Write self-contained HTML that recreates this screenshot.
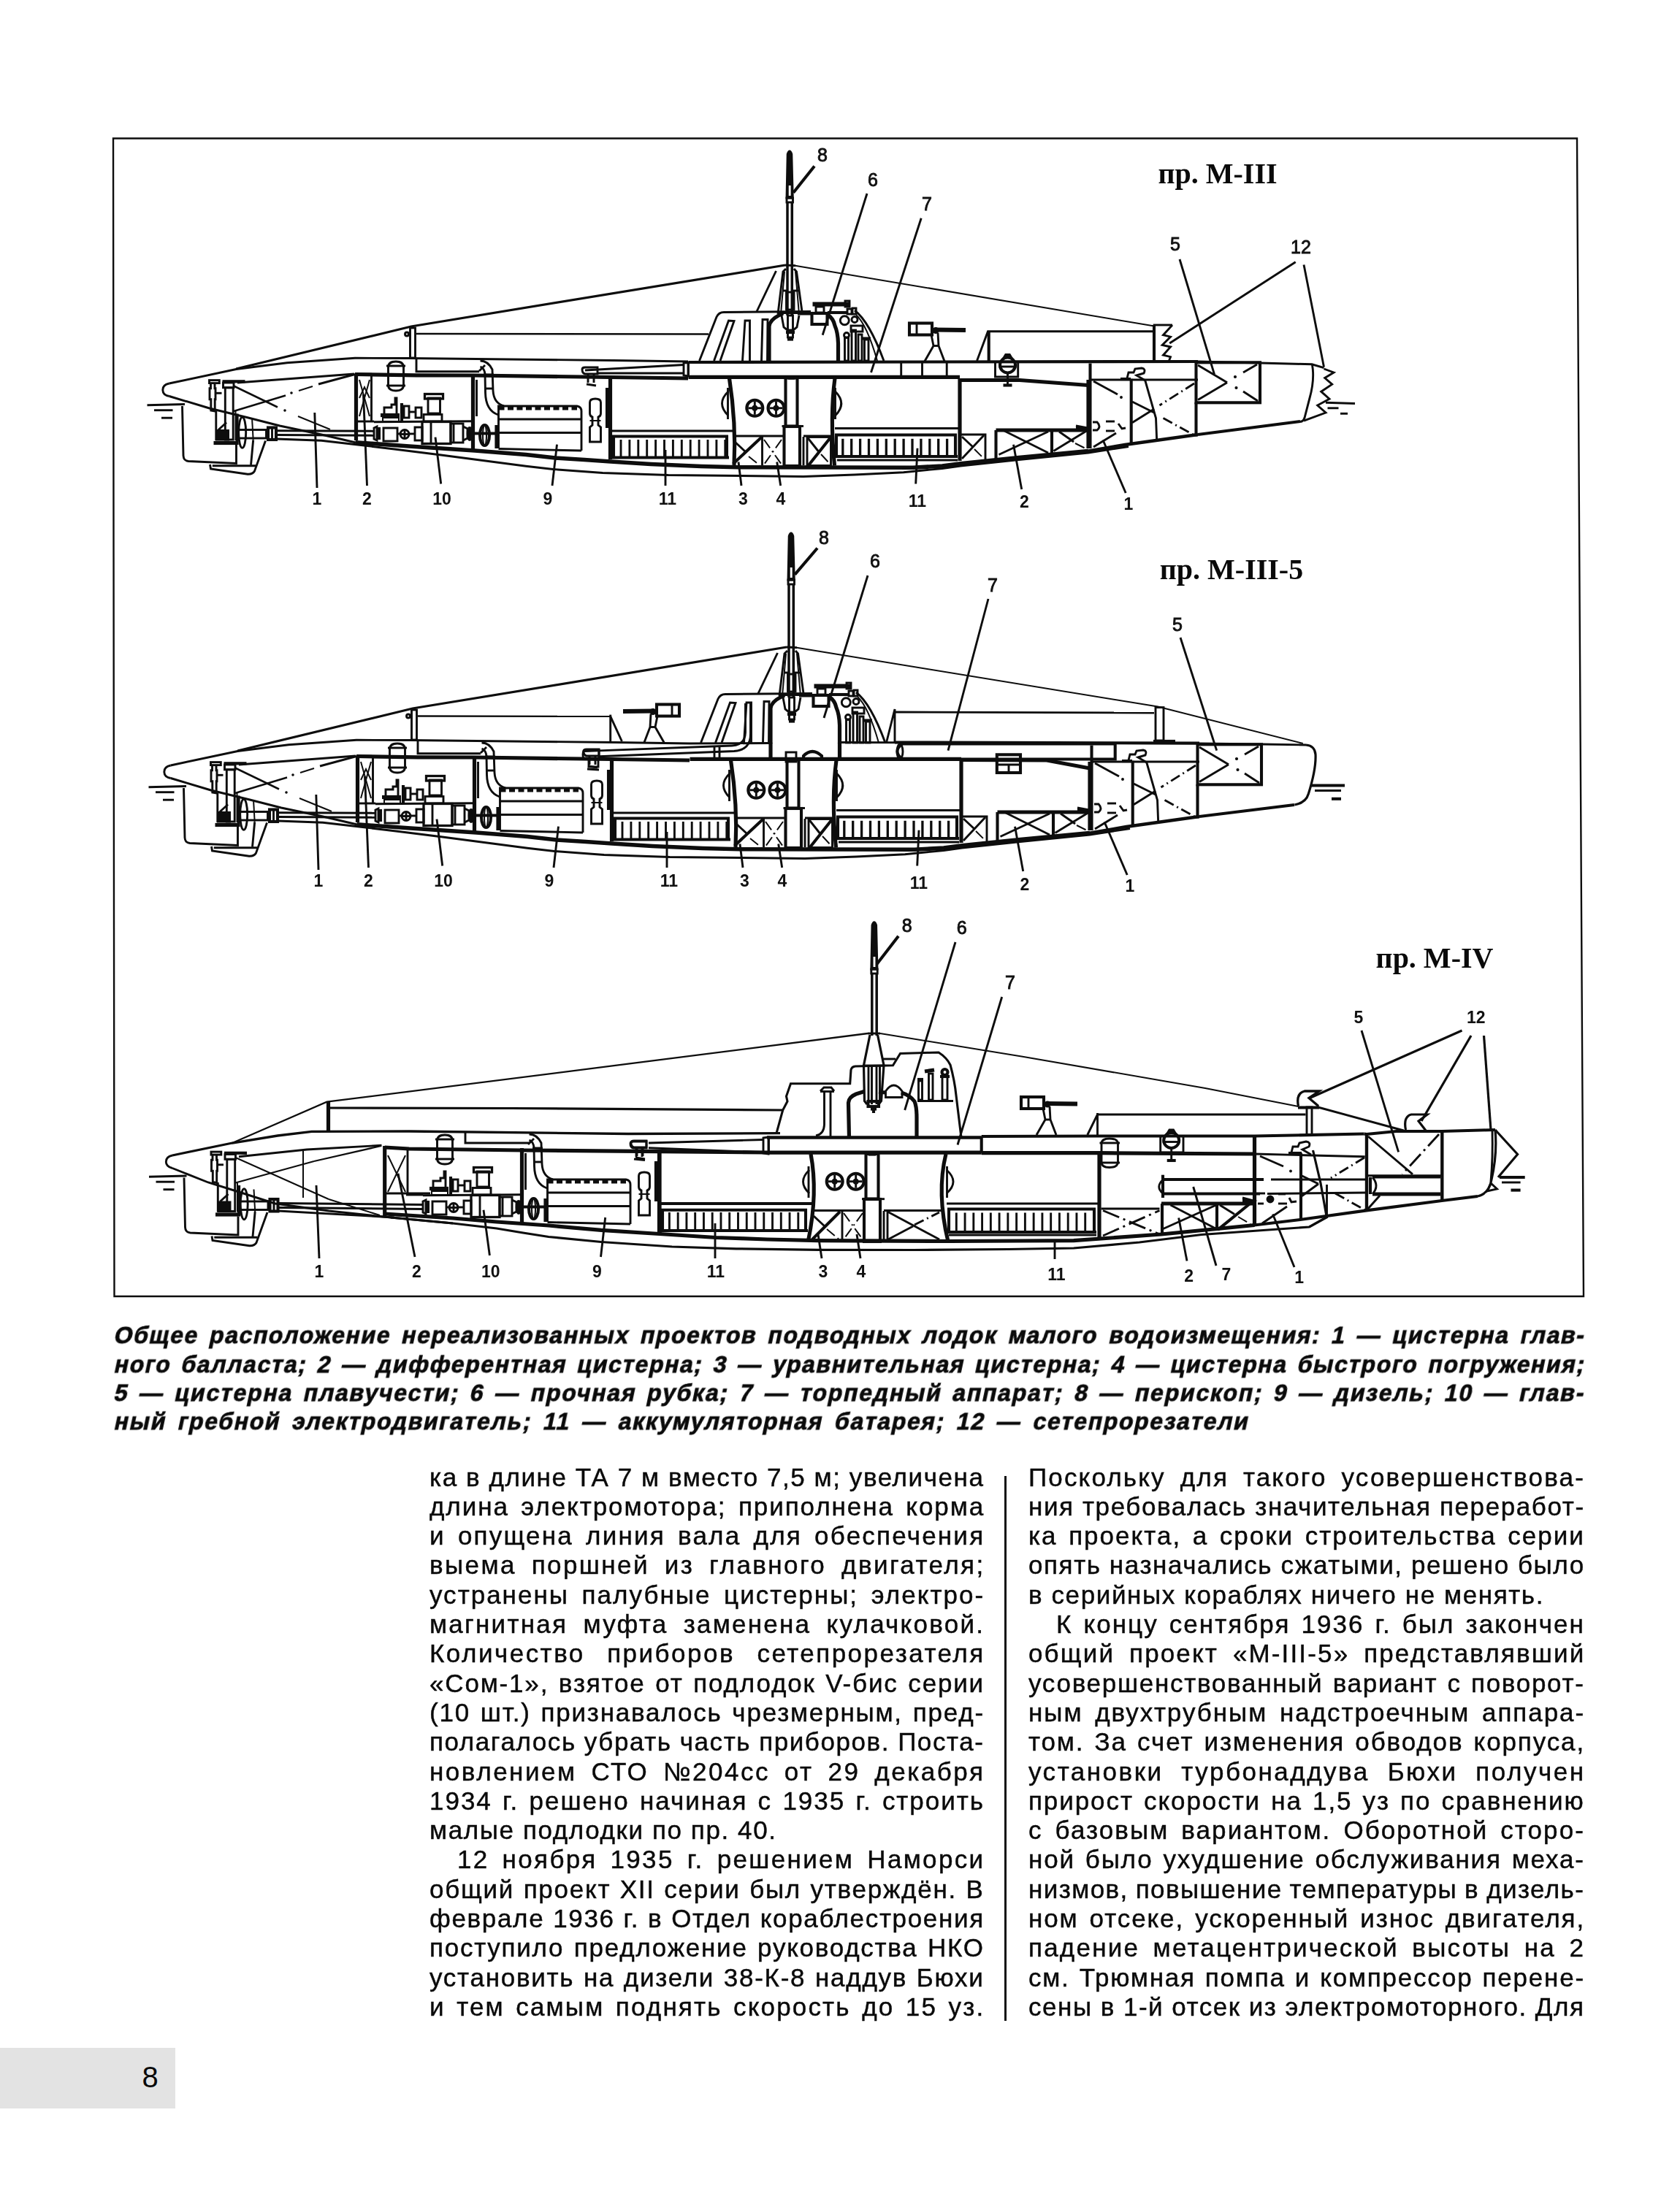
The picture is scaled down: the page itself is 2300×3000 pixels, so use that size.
<!DOCTYPE html>
<html><head><meta charset="utf-8"><title>page 8</title>
<style>
html,body{margin:0;padding:0;background:#fff}
body{width:2300px;height:3000px;position:relative;overflow:hidden;font-family:"Liberation Sans",sans-serif;color:#0a0a0a}
.ln{position:absolute;white-space:pre;height:40px}
.body{font-size:35px;line-height:40px;-webkit-text-stroke:0.45px #0a0a0a}
.cap{font-size:32px;line-height:38px;font-weight:bold;transform:skewX(-12deg);transform-origin:0 30px;-webkit-text-stroke:0.8px #0a0a0a}
.pgbox{position:absolute;left:0;top:2804px;width:240px;height:83px;background:#e3e3e3}
.pgnum{position:absolute;left:194.5px;top:2822px;font-size:40px;line-height:44px}
.vline{position:absolute;left:1375px;top:2021px;width:3px;height:746px;background:#111}
svg{position:absolute;left:0;top:0;filter:blur(0.55px)}
.ln{filter:blur(0.4px)}
.ttl{font-family:"Liberation Serif",serif;font-weight:bold;font-size:40px;fill:#0a0a0a}
.lb{font-family:"Liberation Sans",sans-serif;font-size:25px;fill:#111;stroke:#111;stroke-width:0.9px}
.lbb{font-family:"Liberation Sans",sans-serif;font-size:23px;font-weight:bold;fill:#111}
</style></head><body>
<div class="pgbox"></div><div class="pgnum">8</div>
<div class="vline"></div>
<div class="ln cap" style="left:155px;top:1809.3px;letter-spacing:1.58px;word-spacing:4.71px">Общее расположение нереализованных проектов подводных лодок малого водоизмещения: 1 — цистерна глав-</div>
<div class="ln cap" style="left:155px;top:1848.6px;letter-spacing:1.57px;word-spacing:3.70px">ного балласта; 2 — дифферентная цистерна; 3 — уравнительная цистерна; 4 — цистерна быстрого погружения;</div>
<div class="ln cap" style="left:155px;top:1887.9px;letter-spacing:1.79px;word-spacing:4.01px">5 — цистерна плавучести; 6 — прочная рубка; 7 — торпедный аппарат; 8 — перископ; 9 — дизель; 10 — глав-</div>
<div class="ln cap" style="left:155px;top:1927.2px;letter-spacing:1.66px;word-spacing:5.40px">ный гребной электродвигатель; 11 — аккумуляторная батарея; 12 — сетепрорезатели</div>
<div class="ln body" style="left:588px;top:2002.5px;letter-spacing:1.58px;word-spacing:-0.05px">ка в длине ТА 7 м вместо 7,5 м; увеличена</div>
<div class="ln body" style="left:588px;top:2042.8px;letter-spacing:1.93px;word-spacing:4.78px">длина электромотора; приполнена корма</div>
<div class="ln body" style="left:588px;top:2083.1px;letter-spacing:2.21px;word-spacing:5.19px">и опущена линия вала для обеспечения</div>
<div class="ln body" style="left:588px;top:2123.4px;letter-spacing:2.42px;word-spacing:8.72px">выема поршней из главного двигателя;</div>
<div class="ln body" style="left:588px;top:2163.7px;letter-spacing:2.01px;word-spacing:5.95px">устранены палубные цистерны; электро-</div>
<div class="ln body" style="left:588px;top:2204.0px;letter-spacing:2.25px;word-spacing:9.28px">магнитная муфта заменена кулачковой.</div>
<div class="ln body" style="left:588px;top:2244.3px;letter-spacing:2.48px;word-spacing:18.20px">Количество приборов сетепрорезателя</div>
<div class="ln body" style="left:588px;top:2284.6px;letter-spacing:1.83px;word-spacing:2.09px">«Сом-1», взятое от подлодок V-бис серии</div>
<div class="ln body" style="left:588px;top:2324.9px;letter-spacing:1.80px;word-spacing:2.30px">(10 шт.) признавалось чрезмерным, пред-</div>
<div class="ln body" style="left:588px;top:2365.2px;letter-spacing:1.57px;word-spacing:-0.18px">полагалось убрать часть приборов. Поста-</div>
<div class="ln body" style="left:588px;top:2405.5px;letter-spacing:2.53px;word-spacing:7.53px">новлением СТО №204сс от 29 декабря</div>
<div class="ln body" style="left:588px;top:2445.8px;letter-spacing:1.98px;word-spacing:2.57px">1934 г. решено начиная с 1935 г. строить</div>
<div class="ln body" style="left:588px;top:2486.1px;letter-spacing:1.60px;word-spacing:0.00px">малые подлодки по пр. 40.</div>
<div class="ln body" style="left:626px;top:2526.4px;letter-spacing:2.34px;word-spacing:5.95px">12 ноября 1935 г. решением Наморси</div>
<div class="ln body" style="left:588px;top:2566.7px;letter-spacing:1.74px;word-spacing:1.10px">общий проект XII серии был утверждён. В</div>
<div class="ln body" style="left:588px;top:2607.0px;letter-spacing:1.66px;word-spacing:0.52px">феврале 1936 г. в Отдел кораблестроения</div>
<div class="ln body" style="left:588px;top:2647.3px;letter-spacing:1.74px;word-spacing:2.05px">поступило предложение руководства НКО</div>
<div class="ln body" style="left:588px;top:2687.6px;letter-spacing:1.73px;word-spacing:1.24px">установить на дизели 38-К-8 наддув Бюхи</div>
<div class="ln body" style="left:588px;top:2727.9px;letter-spacing:2.16px;word-spacing:3.59px">и тем самым поднять скорость до 15 уз.</div>
<div class="ln body" style="left:1408px;top:2002.5px;letter-spacing:2.15px;word-spacing:8.12px">Поскольку для такого усовершенствова-</div>
<div class="ln body" style="left:1408px;top:2042.8px;letter-spacing:1.60px;word-spacing:-0.01px">ния требовалась значительная переработ-</div>
<div class="ln body" style="left:1408px;top:2083.1px;letter-spacing:2.01px;word-spacing:3.85px">ка проекта, а сроки строительства серии</div>
<div class="ln body" style="left:1408px;top:2123.4px;letter-spacing:1.59px;word-spacing:-0.09px">опять назначались сжатыми, решено было</div>
<div class="ln body" style="left:1408px;top:2163.7px;letter-spacing:1.60px;word-spacing:0.00px">в серийных кораблях ничего не менять.</div>
<div class="ln body" style="left:1446px;top:2204.0px;letter-spacing:2.04px;word-spacing:3.26px">К концу сентября 1936 г. был закончен</div>
<div class="ln body" style="left:1408px;top:2244.3px;letter-spacing:2.15px;word-spacing:8.00px">общий проект «М-III-5» представлявший</div>
<div class="ln body" style="left:1408px;top:2284.6px;letter-spacing:1.72px;word-spacing:1.83px">усовершенствованный вариант с поворот-</div>
<div class="ln body" style="left:1408px;top:2324.9px;letter-spacing:1.96px;word-spacing:5.07px">ным двухтрубным надстроечным аппара-</div>
<div class="ln body" style="left:1408px;top:2365.2px;letter-spacing:1.88px;word-spacing:2.57px">том. За счет изменения обводов корпуса,</div>
<div class="ln body" style="left:1408px;top:2405.5px;letter-spacing:2.51px;word-spacing:12.59px">установки турбонаддува Бюхи получен</div>
<div class="ln body" style="left:1408px;top:2445.8px;letter-spacing:1.92px;word-spacing:2.51px">прирост скорости на 1,5 уз по сравнению</div>
<div class="ln body" style="left:1408px;top:2486.1px;letter-spacing:2.07px;word-spacing:5.21px">с базовым вариантом. Оборотной сторо-</div>
<div class="ln body" style="left:1408px;top:2526.4px;letter-spacing:1.82px;word-spacing:2.42px">ной было ухудшение обслуживания меха-</div>
<div class="ln body" style="left:1408px;top:2566.7px;letter-spacing:1.42px;word-spacing:-1.13px">низмов, повышение температуры в дизель-</div>
<div class="ln body" style="left:1408px;top:2607.0px;letter-spacing:1.90px;word-spacing:3.43px">ном отсеке, ускоренный износ двигателя,</div>
<div class="ln body" style="left:1408px;top:2647.3px;letter-spacing:2.21px;word-spacing:6.57px">падение метацентрической высоты на 2</div>
<div class="ln body" style="left:1408px;top:2687.6px;letter-spacing:1.78px;word-spacing:1.61px">см. Трюмная помпа и компрессор перене-</div>
<div class="ln body" style="left:1408px;top:2727.9px;letter-spacing:1.55px;word-spacing:-0.22px">сены в 1-й отсек из электромоторного. Для</div>
<svg width="2300" height="3000" viewBox="0 0 2300 3000" fill="none" stroke="#0d0d0d" stroke-linecap="butt" stroke-linejoin="miter">
<polygon points="155,189.5 2159,189.5 2168,1775 156.5,1775" stroke-width="2.4"/>
<path d="M231.7,525 Q222.5,527 222.8,534 Q223,541 231.7,542.5" stroke-width="2.9" />
<path d="M231.7,525 L323.3,505.5 L393,496.7 L486,490.3 L560,490.5 L840,493.5 L942,495" stroke-width="2.9" />
<path d="M231.7,542.5 L286.7,559 L340,572 L383,583 L440,595 L487,606" stroke-width="2.9" />
<path d="M378.6,601 L440,603.3 L490,609 L540,615 L600,622.5 L720,638.3 L757,642.5 L825,647.5 L915,650.5 L1015,651.5 L1100,652.5 L1170,650 L1237,646.7 L1290,641.5 L1315,638 L1395,629.5 L1490,620 L1545,611.5" stroke-width="2.9" />
<path d="M486.7,605.8 L560,611 L650,617 L720,622.5 L760,627 L800,629.5 L836,632 L891,635.5 L960,638.5 L1010,639.7 L1145,640 L1250,640.3 L1290,638 L1315,634.8 L1395,626.5 L1490,617.5" stroke-width="5.6000000000000005" />
<path d="M1488,617.8 L1540,609 L1640,595" stroke-width="4.3999999999999995" />
<path d="M486,512.5 L570,513.8 L647,514 L835,516.5 L942,518" stroke-width="5.2" />
<line x1="942.5" y1="516.3" x2="1314" y2="516.3" stroke-width="5.2" />
<path d="M1314,520.5 L1396,520.5 L1490,527.5" stroke-width="5.2" />
<path d="M323.3,505 L563,447 L1075,363" stroke-width="3.1999999999999997" />
<line x1="1075" y1="363" x2="1089" y2="363.7" stroke-width="2.9" />
<rect x="561.5" y="449" width="7.0" height="41" stroke-width="2.9" />
<circle cx="557" cy="457.5" r="2.5" stroke-width="2.9" />
<polyline points="570,491 570,508.7 656,508.7" stroke-width="2.9" />
<path d="M1640,595 L1780,577" stroke-width="4.1" />
<path d="M1088.7,363.7 L1578.7,446.2" stroke-width="2.0" />
<line x1="570" y1="457" x2="970" y2="457.5" stroke-width="2.3" />
<path d="M249.5,556 L251,624 Q251.5,631 258,631.5 L323.5,634.5 L323.5,609" stroke-width="2.9" />
<line x1="292.5" y1="606.5" x2="323.5" y2="606.5" stroke-width="5.2" />
<path d="M287.5,636 L288.5,642 L339,649.2 Q346,649.5 348.5,645 L363.5,603.5" stroke-width="2.9" />
<line x1="290.8" y1="637.8" x2="350" y2="637.8" stroke-width="2.9" />
<line x1="343.5" y1="636.7" x2="346.7" y2="602.5" stroke-width="2.9" />
<line x1="346.7" y1="602.5" x2="345" y2="572" stroke-width="2.0" />
<polyline points="288.5,525 288.5,531.7 287,531.7 287,546.7 288.8,546.7 288.8,562 294.2,563 294.2,546.7 295,546.7 295,531.7 294,531.7 294,525" stroke-width="2.9" />
<rect x="286.5" y="520.6" width="13.800000000000011" height="4.0" stroke-width="2.9" />
<line x1="295" y1="538.3" x2="303.5" y2="538.3" stroke-width="2.9" />
<rect x="308.3" y="530.8" width="10.899999999999977" height="71.20000000000005" stroke-width="2.9" />
<rect x="305.5" y="524" width="14.5" height="6.7999999999999545" stroke-width="2.9" />
<line x1="304.5" y1="522.3" x2="335.5" y2="522.3" stroke-width="4.2" />
<line x1="295.8" y1="562.5" x2="295.8" y2="603" stroke-width="2.9" />
<line x1="322.5" y1="563" x2="322.5" y2="603" stroke-width="2.0" />
<path d="M296,589 L313,589 L313,602.5 L296,602.5 Z" stroke-width="2.0" fill="#0d0d0d"/>
<line x1="299" y1="588.5" x2="310" y2="578.5" stroke-width="2.9" />
<ellipse cx="331.7" cy="592.2" rx="5" ry="21" stroke-width="2.9" />
<line x1="324.6" y1="566.5" x2="324.6" y2="609" stroke-width="4.1" />
<rect x="326" y="588.5" width="38.5" height="11.5" stroke-width="2.9" />
<rect x="367" y="585.5" width="11" height="16.5" stroke-width="4.1" />
<line x1="372.5" y1="586" x2="372.5" y2="602" stroke-width="2.9" />
<line x1="378" y1="589.8" x2="512" y2="590.3" stroke-width="2.9" />
<line x1="378" y1="595.5" x2="512" y2="596.3" stroke-width="2.9" />
<line x1="378" y1="601" x2="380" y2="601.1" stroke-width="2.9" />
<line x1="201.5" y1="554.7" x2="253" y2="553.5" stroke-width="2.9" />
<line x1="211" y1="561.7" x2="236.5" y2="561.7" stroke-width="2.9" />
<line x1="221" y1="572.2" x2="236" y2="572.2" stroke-width="2.9" />
<line x1="320" y1="528.5" x2="380" y2="557.5" stroke-width="2.5" />
<line x1="320" y1="563" x2="391" y2="541.5" stroke-width="2.5" />
<line x1="409" y1="535" x2="428" y2="529" stroke-width="2.0" />
<line x1="436" y1="526" x2="486" y2="512.5" stroke-width="2.9" />
<circle cx="399" cy="538" r="1.2" stroke-width="1.2" fill="#0d0d0d"/>
<circle cx="390" cy="562" r="1.2" stroke-width="1.2" fill="#0d0d0d"/>
<line x1="408" y1="570" x2="452" y2="588" stroke-width="2.0" />
<line x1="325" y1="524" x2="485" y2="512" stroke-width="2.9" />
<line x1="487.5" y1="512" x2="487.5" y2="603" stroke-width="5.2" />
<line x1="508.5" y1="514" x2="508.5" y2="577" stroke-width="2.9" />
<polyline points="492,520 506,570" stroke-width="2.0" />
<polyline points="506,520 492,570" stroke-width="2.0" />
<polyline points="492,545 499,530 506,545" stroke-width="2.0" />
<line x1="489" y1="577" x2="512" y2="577" stroke-width="2.9" />
<path d="M531.5,503 Q531.5,495 542,495 Q552.5,495 552.5,503 L552.5,527 Q552.5,535 542,535 Q531.5,535 531.5,527 Z" stroke-width="2.9" />
<line x1="529" y1="501" x2="555" y2="501" stroke-width="2.9" />
<line x1="529" y1="528" x2="555" y2="528" stroke-width="2.9" />
<polyline points="526,566 526,558 536,558 536,554 541,554 541,545 543,545 543,566" stroke-width="2.9" />
<line x1="521" y1="568.5" x2="547" y2="568.5" stroke-width="5.2" />
<rect x="524" y="572" width="22" height="5" stroke-width="2.0" />
<line x1="550" y1="552" x2="550" y2="578" stroke-width="4.1" />
<rect x="553" y="556" width="7" height="16" stroke-width="2.9" />
<rect x="569" y="558" width="8" height="14" stroke-width="2.9" />
<line x1="560" y1="564" x2="569" y2="564" stroke-width="2.9" />
<rect x="581.5" y="539.5" width="25.0" height="6.5" stroke-width="3.3" />
<rect x="586" y="545" width="16.5" height="21" stroke-width="2.9" />
<rect x="580" y="567.5" width="25" height="9.5" stroke-width="2.9" />
<rect x="578" y="577.5" width="39" height="30.0" stroke-width="3.3" />
<line x1="512" y1="577.8" x2="646" y2="576.8" stroke-width="2.9" />
<line x1="590" y1="578" x2="590" y2="607" stroke-width="2.9" />
<rect x="617" y="580" width="17" height="26" stroke-width="2.9" />
<line x1="621" y1="580" x2="621" y2="606" stroke-width="2.9" />
<path d="M634,584 L640,587 L640,600 L634,603" stroke-width="2.9" />
<path d="M512,586 L516,584 L516,603 L512,601 Z" stroke-width="2.9" />
<line x1="519" y1="585" x2="519" y2="602" stroke-width="4.1" />
<rect x="525" y="586" width="19" height="18" stroke-width="2.9" />
<circle cx="554" cy="594.5" r="6" stroke-width="2.9" />
<line x1="548" y1="594.5" x2="560" y2="594.5" stroke-width="2.9" />
<line x1="554" y1="588.5" x2="554" y2="600.5" stroke-width="2.9" />
<rect x="568" y="585" width="10" height="18" stroke-width="2.9" />
<line x1="544" y1="594" x2="548" y2="594" stroke-width="2.9" />
<line x1="560" y1="594" x2="568" y2="594" stroke-width="2.9" />
<line x1="647.5" y1="513" x2="647.5" y2="616" stroke-width="5.2" />
<line x1="652.5" y1="520" x2="652.5" y2="570" stroke-width="2.9" />
<line x1="640" y1="593.5" x2="682" y2="593.5" stroke-width="4.1" />
<ellipse cx="643" cy="594" rx="2.8" ry="8.5" stroke-width="2.9" fill="#0d0d0d"/>
<ellipse cx="663.5" cy="596" rx="6.5" ry="14" stroke-width="4.1" />
<ellipse cx="663.5" cy="596" rx="2.5" ry="14" stroke-width="2.0" />
<line x1="680" y1="582" x2="680" y2="614" stroke-width="5.2" />
<path d="M657.5,494 Q668,494 674,506 L675,535 Q676,552 690,556" stroke-width="2.9" />
<path d="M657.5,502 Q663,504 664,512 L664.5,538 Q665,562 682,568" stroke-width="2.9" />
<line x1="662" y1="513" x2="676" y2="513" stroke-width="2.9" />
<line x1="663" y1="532" x2="676" y2="532" stroke-width="2.9" />
<line x1="656" y1="508" x2="664" y2="500" stroke-width="2.9" />
<path d="M682.5,614 L682.5,556 L790,556 Q796,557 796,563 L796,617" stroke-width="2.9" />
<line x1="682.5" y1="559" x2="790" y2="559" stroke-width="5.2" stroke-dasharray="8 4.5"/>
<line x1="682.5" y1="574" x2="796" y2="574" stroke-width="2.9" />
<line x1="682.5" y1="614.5" x2="796" y2="617" stroke-width="2.9" />
<line x1="682.5" y1="592.5" x2="796" y2="592.5" stroke-width="2.9" />
<path d="M807.5,551 Q807.5,546 815,546 Q822.5,546 822.5,551 L822.5,566 Q822.5,570 819,571 L819,582 L822.5,585 L822.5,605 L807.5,605 L807.5,585 L811,582 L811,571 Q807.5,570 807.5,566 Z" stroke-width="2.9" />
<line x1="807.5" y1="576" x2="822.5" y2="576" stroke-width="2.0" />
<line x1="835.5" y1="517" x2="835.5" y2="629" stroke-width="5.2" />
<line x1="831" y1="531" x2="831" y2="586" stroke-width="4.1" />
<path d="M797,506 Q797,503 801,503 L818,503 L818,512 L801,512 Q797,511 797,506 Z" stroke-width="2.9" />
<line x1="805" y1="512" x2="805" y2="524" stroke-width="2.9" />
<line x1="813" y1="512" x2="813" y2="524" stroke-width="2.9" />
<line x1="803" y1="526" x2="816" y2="528" stroke-width="2.9" />
<line x1="801" y1="507" x2="936" y2="499.5" stroke-width="2.9" />
<line x1="818" y1="511" x2="936" y2="511" stroke-width="2.9" />
<path d="M936,497 L942,496.5 L942,515 L936,514 Z" stroke-width="2.9" />
<line x1="942.5" y1="496" x2="1640" y2="495" stroke-width="4.1" />
<line x1="942.5" y1="496" x2="942.5" y2="516" stroke-width="2.9" />
<line x1="1233.7" y1="496" x2="1233.7" y2="516" stroke-width="2.9" />
<line x1="1262.5" y1="496" x2="1262.5" y2="516" stroke-width="2.9" />
<line x1="1296.2" y1="496" x2="1296.2" y2="516" stroke-width="2.9" />
<line x1="838" y1="590" x2="1003" y2="590" stroke-width="2.9" />
<polyline points="840,626 840,597.5 995,597.5 995,626" stroke-width="4.1" />
<line x1="838" y1="626.5" x2="998" y2="626.5" stroke-width="4.1" />
<line x1="850.0" y1="602" x2="850.0" y2="625" stroke-width="2.9" />
<line x1="861.9" y1="602" x2="861.9" y2="625" stroke-width="2.9" />
<line x1="873.8" y1="602" x2="873.8" y2="625" stroke-width="2.9" />
<line x1="885.7" y1="602" x2="885.7" y2="625" stroke-width="2.9" />
<line x1="897.6" y1="602" x2="897.6" y2="625" stroke-width="2.9" />
<line x1="909.5" y1="602" x2="909.5" y2="625" stroke-width="2.9" />
<line x1="921.4" y1="602" x2="921.4" y2="625" stroke-width="2.9" />
<line x1="933.3" y1="602" x2="933.3" y2="625" stroke-width="2.9" />
<line x1="945.2" y1="602" x2="945.2" y2="625" stroke-width="2.9" />
<line x1="957.1" y1="602" x2="957.1" y2="625" stroke-width="2.9" />
<line x1="969.0" y1="602" x2="969.0" y2="625" stroke-width="2.9" />
<line x1="980.9" y1="602" x2="980.9" y2="625" stroke-width="2.9" />
<line x1="992.8" y1="602" x2="992.8" y2="625" stroke-width="2.9" />
<path d="M998.5,518 Q1008,580 1005,637" stroke-width="5.2" />
<path d="M997,536 Q980,552.5 997,569" stroke-width="2.9" />
<line x1="996.5" y1="531" x2="996.5" y2="574" stroke-width="2.9" />
<circle cx="1033.3" cy="558.8" r="11" stroke-width="4.1" />
<line x1="1024.3" y1="558.8" x2="1042.3" y2="558.8" stroke-width="2.9" />
<line x1="1033.3" y1="549.8" x2="1033.3" y2="567.8" stroke-width="2.9" />
<circle cx="1033.3" cy="558.8" r="2.5" stroke-width="2.9" fill="#0d0d0d"/>
<circle cx="1062.5" cy="558.8" r="11" stroke-width="4.1" />
<line x1="1053.5" y1="558.8" x2="1071.5" y2="558.8" stroke-width="2.9" />
<line x1="1062.5" y1="549.8" x2="1062.5" y2="567.8" stroke-width="2.9" />
<circle cx="1062.5" cy="558.8" r="2.5" stroke-width="2.9" fill="#0d0d0d"/>
<rect x="1075.5" y="517.5" width="16.0" height="66.0" stroke-width="4.1" />
<line x1="1070.5" y1="583.5" x2="1100" y2="583.5" stroke-width="2.9" />
<rect x="1073.5" y="584" width="21.5" height="54" stroke-width="4.1" />
<line x1="1079" y1="517" x2="1088" y2="517" stroke-width="5.2" />
<line x1="1006" y1="597" x2="1073" y2="597" stroke-width="2.9" />
<line x1="1003.75" y1="635" x2="1042.5" y2="598.75" stroke-width="4.1" />
<line x1="1006" y1="605" x2="1020" y2="618" stroke-width="2.9" />
<line x1="1043.5" y1="598" x2="1043.5" y2="637" stroke-width="2.9" />
<line x1="1046" y1="602" x2="1070" y2="636" stroke-width="2.0" stroke-dasharray="14 5 2 5"/>
<line x1="1070" y1="602" x2="1046" y2="636" stroke-width="2.0" stroke-dasharray="14 5 2 5"/>
<line x1="1025" y1="625" x2="1040" y2="637" stroke-width="2.0" stroke-dasharray="14 5 2 5"/>
<line x1="1100" y1="597" x2="1141" y2="597" stroke-width="2.9" />
<rect x="1105" y="598.5" width="32.5" height="39.0" stroke-width="2.9" />
<line x1="1105" y1="598.5" x2="1122" y2="620" stroke-width="2.9" />
<line x1="1137.5" y1="598.5" x2="1107" y2="637" stroke-width="4.1" />
<line x1="1124" y1="622" x2="1137" y2="636" stroke-width="2.0" stroke-dasharray="14 5 2 5"/>
<line x1="1100" y1="598" x2="1100" y2="637" stroke-width="2.9" />
<path d="M1143,518 Q1136,570 1142.5,637.5" stroke-width="5.2" />
<path d="M1143.5,536 Q1160,552.5 1143.5,569" stroke-width="2.9" />
<line x1="1143.5" y1="531" x2="1143.5" y2="574" stroke-width="2.9" />
<line x1="1143" y1="586.5" x2="1312" y2="586.5" stroke-width="2.9" />
<polyline points="1145,624.5 1145,595.5 1308,595.5 1308,624.5" stroke-width="4.1" />
<line x1="1143" y1="625" x2="1311" y2="625" stroke-width="4.1" />
<line x1="1146" y1="630" x2="1311" y2="630" stroke-width="2.9" />
<line x1="1153.8" y1="600.8" x2="1153.8" y2="624" stroke-width="3.3" />
<line x1="1165.7" y1="600.8" x2="1165.7" y2="624" stroke-width="3.3" />
<line x1="1177.6" y1="600.8" x2="1177.6" y2="624" stroke-width="3.3" />
<line x1="1189.5" y1="600.8" x2="1189.5" y2="624" stroke-width="3.3" />
<line x1="1201.3999999999999" y1="600.8" x2="1201.3999999999999" y2="624" stroke-width="3.3" />
<line x1="1213.3" y1="600.8" x2="1213.3" y2="624" stroke-width="3.3" />
<line x1="1225.2" y1="600.8" x2="1225.2" y2="624" stroke-width="3.3" />
<line x1="1237.1" y1="600.8" x2="1237.1" y2="624" stroke-width="3.3" />
<line x1="1249.0" y1="600.8" x2="1249.0" y2="624" stroke-width="3.3" />
<line x1="1260.8999999999999" y1="600.8" x2="1260.8999999999999" y2="624" stroke-width="3.3" />
<line x1="1272.8" y1="600.8" x2="1272.8" y2="624" stroke-width="3.3" />
<line x1="1284.7" y1="600.8" x2="1284.7" y2="624" stroke-width="3.3" />
<line x1="1296.6" y1="600.8" x2="1296.6" y2="624" stroke-width="3.3" />
<path d="M957.5,494 L981,434 Q984,427.5 991,427.5 L1110,426.5" stroke-width="2.9" />
<polyline points="977.5,494 997.5,439 1005,439.5 986,494" stroke-width="2.9" />
<polyline points="1016.5,494 1020,439 1026.5,439 1026.5,494" stroke-width="2.9" />
<polyline points="1042.5,494 1044,437.5 1051,437.5 1050.5,494" stroke-width="2.9" />
<line x1="1036" y1="426.5" x2="1062.5" y2="371" stroke-width="2.9" />
<path d="M1053,495 L1053,447 Q1054,438 1066,432 L1072,429" stroke-width="5.2" />
<path d="M1092,429 L1110,429 M1133,431 Q1141,436 1143,446 Q1147,455 1147.5,470 L1147.5,495" stroke-width="5.2" />
<path d="M1078.2,211 Q1081,203 1083.8,211 L1085.3,271 L1077,271 Z" stroke-width="2.9" fill="#0d0d0d"/>
<line x1="1081.2" y1="254" x2="1081.2" y2="268" stroke-width="2.9" stroke="#fff"/>
<rect x="1077" y="271" width="8.5" height="6" stroke-width="2.9" />
<line x1="1078" y1="277" x2="1078" y2="432" stroke-width="3.4999999999999996" />
<line x1="1084.3" y1="277" x2="1084.3" y2="432" stroke-width="3.4999999999999996" />
<polyline points="1076,368 1072,372 1065,430" stroke-width="2.9" />
<polyline points="1087,368 1090.5,372 1098.5,430" stroke-width="2.9" />
<line x1="1071" y1="398" x2="1077" y2="398" stroke-width="2.9" />
<line x1="1086" y1="398" x2="1093" y2="398" stroke-width="2.9" />
<line x1="1074" y1="372" x2="1069" y2="430" stroke-width="2.0" />
<line x1="1089" y1="372" x2="1094" y2="430" stroke-width="2.0" />
<rect x="1076.5" y="400" width="10.5" height="24" stroke-width="2.9" />
<line x1="1066" y1="428" x2="1099" y2="428" stroke-width="4.1" />
<polyline points="1070,432 1073,448 1078,452 1086,452 1091,448 1094,432" stroke-width="2.9" />
<rect x="1078.5" y="432" width="7.0" height="30" stroke-width="2.9" />
<line x1="1076" y1="455" x2="1088" y2="455" stroke-width="4.1" />
<line x1="1078" y1="464" x2="1086" y2="464" stroke-width="5.2" />
<rect x="1111.5" y="429" width="21.0" height="15" stroke-width="4.1" />
<line x1="1112.5" y1="416.5" x2="1162" y2="416.5" stroke-width="6.2" />
<rect x="1117" y="420" width="11" height="8" stroke-width="2.9" />
<rect x="1157" y="412" width="6" height="8" stroke-width="2.9" />
<line x1="1133" y1="428" x2="1160" y2="428" stroke-width="4.1" />
<rect x="1160" y="423" width="6" height="7" stroke-width="2.9" />
<circle cx="1156.3" cy="438.8" r="6" stroke-width="2.9" />
<circle cx="1170" cy="437.5" r="4" stroke-width="2.9" />
<rect x="1167" y="422" width="5" height="8" stroke-width="2.9" />
<rect x="1156.5" y="462" width="5.0" height="32" stroke-width="2.9" />
<circle cx="1159" cy="459" r="3.5" stroke-width="2.9" />
<rect x="1166" y="452" width="5.5" height="42" stroke-width="2.9" />
<rect x="1165" y="446" width="16" height="8" stroke-width="2.9" />
<rect x="1175" y="458" width="5" height="36" stroke-width="2.9" />
<rect x="1183.5" y="465" width="5.5" height="29" stroke-width="2.9" />
<line x1="1180" y1="463.5" x2="1192" y2="463.5" stroke-width="4.1" />
<path d="M1170,425 Q1190,440 1210,494" stroke-width="2.9" />
<path d="M1172,431 Q1187,445 1201,494" stroke-width="2.0" />
<rect x="1245" y="442.5" width="31" height="16.0" stroke-width="4.1" />
<line x1="1255" y1="442.5" x2="1255" y2="458.5" stroke-width="2.9" />
<line x1="1279" y1="451.5" x2="1322" y2="452.0" stroke-width="6.0" />
<polyline points="1275,458.5 1278,473.5 1266,494.5" stroke-width="2.9" />
<polyline points="1284,455.5 1285,473.5 1293,494.5" stroke-width="2.9" />
<line x1="1277" y1="473.5" x2="1286" y2="473.5" stroke-width="2.9" />
<circle cx="1281" cy="452.5" r="3" stroke-width="2.9" />
<polyline points="1337.5,494 1352.5,453.7 1580,453.7" stroke-width="2.9" />
<line x1="1353.7" y1="453.7" x2="1353.7" y2="494" stroke-width="4.1" />
<line x1="1580" y1="445" x2="1580" y2="495" stroke-width="4.1" />
<line x1="1578.7" y1="445" x2="1605" y2="445" stroke-width="2.9" />
<polyline points="1605,445 1592.5,458.7 1602.5,461.2 1591.2,472.5 1602.5,475 1592.5,486.2 1602.5,488.7 1600,495" stroke-width="2.9" />
<polyline points="1362.5,497 1362.5,516 1393.7,516 1393.7,497" stroke-width="2.9" />
<circle cx="1379.5" cy="500" r="10.5" stroke-width="4.1" />
<path d="M1373.5,490 L1376.5,485 L1382.5,485 L1385.5,490 Z" stroke-width="2.0" fill="#0d0d0d"/>
<line x1="1367.5" y1="502" x2="1391.5" y2="502" stroke-width="2.9" />
<line x1="1379.5" y1="510" x2="1379.5" y2="527" stroke-width="2.9" />
<line x1="1373.5" y1="527.5" x2="1385.5" y2="527.5" stroke-width="4.1" />
<line x1="1314" y1="519" x2="1314" y2="631" stroke-width="5.2" />
<polyline points="1316,595 1349,595 1349,630" stroke-width="2.9" />
<line x1="1317" y1="628" x2="1347" y2="596" stroke-width="2.9" />
<line x1="1317" y1="598" x2="1332" y2="612" stroke-width="2.9" />
<line x1="1334" y1="615" x2="1346" y2="627" stroke-width="2.0" stroke-dasharray="14 5 2 5"/>
<line x1="1363.5" y1="589" x2="1489" y2="589" stroke-width="5.2" />
<line x1="1363.5" y1="589" x2="1363.5" y2="629" stroke-width="4.1" />
<line x1="1440" y1="590" x2="1440" y2="621" stroke-width="4.1" />
<line x1="1375" y1="590" x2="1435" y2="620" stroke-width="2.9" />
<line x1="1367.5" y1="622.5" x2="1435" y2="591" stroke-width="2.9" />
<line x1="1450" y1="591" x2="1470" y2="605" stroke-width="2.9" />
<line x1="1442.5" y1="617.5" x2="1487.5" y2="590" stroke-width="2.9" />
<line x1="1472" y1="607" x2="1486" y2="614" stroke-width="2.0" stroke-dasharray="14 5 2 5"/>
<line x1="1490" y1="520" x2="1490" y2="614" stroke-width="5.2" />
<path d="M1473,583 L1489,586 L1473,589" stroke-width="2.9" fill="#0d0d0d"/>
<path d="M1496,578 L1502,578 Q1508,584 1502,589 L1496,589" stroke-width="2.9" />
<line x1="1514" y1="577" x2="1526" y2="577" stroke-width="2.9" />
<line x1="1514" y1="590" x2="1526" y2="590" stroke-width="2.9" />
<path d="M1531,580 L1536,587 L1541,586" stroke-width="2.9" />
<line x1="1497" y1="612" x2="1528" y2="593" stroke-width="2.9" />
<line x1="1492.5" y1="497.5" x2="1492.5" y2="614" stroke-width="4.1" />
<line x1="1492.5" y1="520" x2="1640" y2="520" stroke-width="2.9" />
<line x1="1548.7" y1="518.7" x2="1548.7" y2="608.7" stroke-width="4.1" />
<polyline points="1567.5,520 1582.5,572.5 1583.7,603" stroke-width="2.9" />
<line x1="1497" y1="522" x2="1530" y2="540" stroke-width="2.9" />
<circle cx="1535" cy="544" r="1.3" stroke-width="1.3" fill="#0d0d0d"/>
<line x1="1550" y1="550" x2="1580" y2="565" stroke-width="2.9" />
<line x1="1550" y1="578.7" x2="1580" y2="560" stroke-width="2.9" />
<line x1="1635" y1="525" x2="1587.5" y2="555" stroke-width="2.9" stroke-dasharray="14 5 2 5"/>
<line x1="1592.5" y1="572.5" x2="1635" y2="596" stroke-width="2.9" stroke-dasharray="14 5 2 5"/>
<path d="M1543,518 L1545,510 L1552,510 L1554,505 L1563,504 Q1569,505 1566,511 L1556,514 L1568,521" stroke-width="2.9" />
<line x1="1534" y1="519" x2="1548" y2="519" stroke-width="4.1" />
<rect x="1637.5" y="496.3" width="87.5" height="54.99999999999994" stroke-width="4.1" />
<line x1="1637.5" y1="551" x2="1637.5" y2="597.5" stroke-width="4.1" />
<line x1="1640" y1="500" x2="1680" y2="523.7" stroke-width="2.9" />
<line x1="1640" y1="547.5" x2="1680" y2="523.7" stroke-width="2.9" />
<line x1="1702" y1="510" x2="1721" y2="499" stroke-width="2.9" />
<line x1="1702" y1="536" x2="1722" y2="549" stroke-width="2.9" />
<circle cx="1691" cy="516" r="1.4" stroke-width="1.4" fill="#0d0d0d"/>
<circle cx="1692.5" cy="531" r="1.4" stroke-width="1.4" fill="#0d0d0d"/>
<path d="M1640,495 L1725,497 L1796,498.8 L1812.5,503.7" stroke-width="2.9" />
<path d="M1796.5,499.5 Q1800,520 1793,545 L1786,572 Q1784.5,577 1780,577.5" stroke-width="2.9" />
<polyline points="1812.5,505 1826,510 1813.7,517.5 1823.7,526.2 1808.7,536.2 1820,546.2 1803.7,555 1815,565 1785,576.2" stroke-width="2.9" />
<line x1="1815" y1="551.3" x2="1855" y2="552.5" stroke-width="2.9" />
<line x1="1817.5" y1="558.8" x2="1832.5" y2="558.8" stroke-width="2.9" />
<line x1="1835" y1="566.3" x2="1845" y2="566.3" stroke-width="2.9" />
<line x1="430.8" y1="565" x2="434" y2="668" stroke-width="2.9" />
<line x1="497.5" y1="540" x2="502.5" y2="665" stroke-width="2.9" />
<line x1="596" y1="598.7" x2="603.7" y2="662.5" stroke-width="2.9" />
<line x1="762.5" y1="608.7" x2="756" y2="665" stroke-width="2.9" />
<line x1="911" y1="616" x2="911" y2="665" stroke-width="2.9" />
<line x1="1011" y1="632.5" x2="1015" y2="665" stroke-width="2.9" />
<line x1="1063.7" y1="632.5" x2="1068.7" y2="665" stroke-width="2.9" />
<line x1="1256" y1="613.7" x2="1253.7" y2="662.5" stroke-width="2.9" />
<line x1="1387.5" y1="608.7" x2="1398.7" y2="670" stroke-width="2.9" />
<line x1="1510" y1="602.5" x2="1541.2" y2="675" stroke-width="2.9" />
<line x1="1115" y1="227.5" x2="1086.2" y2="263.7" stroke-width="4.1" />
<line x1="1187" y1="265" x2="1126.2" y2="458.7" stroke-width="2.9" />
<line x1="1261.2" y1="298.7" x2="1192.5" y2="510" stroke-width="2.9" />
<line x1="1615" y1="355" x2="1662.5" y2="512.5" stroke-width="2.9" />
<line x1="1773.7" y1="358.7" x2="1601.2" y2="470" stroke-width="2.9" />
<line x1="1785" y1="362.5" x2="1812.5" y2="502.5" stroke-width="2.9" />
<text x="434" y="691" class="lbb" text-anchor="middle" stroke="none">1</text>
<text x="502.5" y="691" class="lbb" text-anchor="middle" stroke="none">2</text>
<text x="605" y="691" class="lbb" text-anchor="middle" stroke="none">10</text>
<text x="750" y="691" class="lbb" text-anchor="middle" stroke="none">9</text>
<text x="914" y="691" class="lbb" text-anchor="middle" stroke="none">11</text>
<text x="1017.5" y="691" class="lbb" text-anchor="middle" stroke="none">3</text>
<text x="1069" y="691" class="lbb" text-anchor="middle" stroke="none">4</text>
<text x="1256" y="694" class="lbb" text-anchor="middle" stroke="none">11</text>
<text x="1402.5" y="695" class="lbb" text-anchor="middle" stroke="none">2</text>
<text x="1545" y="698" class="lbb" text-anchor="middle" stroke="none">1</text>
<text x="1126" y="221" class="lb" text-anchor="middle" >8</text>
<text x="1195" y="255" class="lb" text-anchor="middle" >6</text>
<text x="1269" y="288" class="lb" text-anchor="middle" >7</text>
<text x="1609" y="343" class="lb" text-anchor="middle" >5</text>
<text x="1781" y="347" class="lb" text-anchor="middle" >12</text>
<text x="1667" y="251" class="ttl" text-anchor="middle" stroke="none">пр. М-III</text>
<g transform="translate(2,523)"><path d="M231.7,525 Q222.5,527 222.8,534 Q223,541 231.7,542.5" stroke-width="2.9" />
<path d="M231.7,525 L323.3,505.5 L393,496.7 L486,490.3 L560,490.5 L840,493.5 L942,495" stroke-width="2.9" />
<path d="M231.7,542.5 L286.7,559 L340,572 L383,583 L440,595 L487,606" stroke-width="2.9" />
<path d="M378.6,601 L440,603.3 L490,609 L540,615 L600,622.5 L720,638.3 L757,642.5 L825,647.5 L915,650.5 L1015,651.5 L1100,652.5 L1170,650 L1237,646.7 L1290,641.5 L1315,638 L1395,629.5 L1490,620 L1545,611.5" stroke-width="2.9" />
<path d="M486.7,605.8 L560,611 L650,617 L720,622.5 L760,627 L800,629.5 L836,632 L891,635.5 L960,638.5 L1010,639.7 L1145,640 L1250,640.3 L1290,638 L1315,634.8 L1395,626.5 L1490,617.5" stroke-width="5.6000000000000005" />
<path d="M1488,617.8 L1540,609 L1640,595" stroke-width="4.3999999999999995" />
<path d="M486,512.5 L570,513.8 L647,514 L835,516.5 L942,518" stroke-width="5.2" />
<line x1="942.5" y1="516.3" x2="1314" y2="516.3" stroke-width="5.2" />
<path d="M1314,517.5 L1431,518 L1490,529" stroke-width="5.2" />
<path d="M323.3,505 L563,447 L1075,363" stroke-width="3.1999999999999997" />
<line x1="1075" y1="363" x2="1089" y2="363.7" stroke-width="2.9" />
<rect x="561.5" y="449" width="7.0" height="41" stroke-width="2.9" />
<circle cx="557" cy="457.5" r="2.5" stroke-width="2.9" />
<polyline points="570,491 570,508.7 656,508.7" stroke-width="2.9" />
<path d="M1640,595 L1770,579" stroke-width="4.1" />
<path d="M249.5,556 L251,624 Q251.5,631 258,631.5 L323.5,634.5 L323.5,609" stroke-width="2.9" />
<line x1="292.5" y1="606.5" x2="323.5" y2="606.5" stroke-width="5.2" />
<path d="M287.5,636 L288.5,642 L339,649.2 Q346,649.5 348.5,645 L363.5,603.5" stroke-width="2.9" />
<line x1="290.8" y1="637.8" x2="350" y2="637.8" stroke-width="2.9" />
<line x1="343.5" y1="636.7" x2="346.7" y2="602.5" stroke-width="2.9" />
<line x1="346.7" y1="602.5" x2="345" y2="572" stroke-width="2.0" />
<polyline points="288.5,525 288.5,531.7 287,531.7 287,546.7 288.8,546.7 288.8,562 294.2,563 294.2,546.7 295,546.7 295,531.7 294,531.7 294,525" stroke-width="2.9" />
<rect x="286.5" y="520.6" width="13.800000000000011" height="4.0" stroke-width="2.9" />
<line x1="295" y1="538.3" x2="303.5" y2="538.3" stroke-width="2.9" />
<rect x="308.3" y="530.8" width="10.899999999999977" height="71.20000000000005" stroke-width="2.9" />
<rect x="305.5" y="524" width="14.5" height="6.7999999999999545" stroke-width="2.9" />
<line x1="304.5" y1="522.3" x2="335.5" y2="522.3" stroke-width="4.2" />
<line x1="295.8" y1="562.5" x2="295.8" y2="603" stroke-width="2.9" />
<line x1="322.5" y1="563" x2="322.5" y2="603" stroke-width="2.0" />
<path d="M296,589 L313,589 L313,602.5 L296,602.5 Z" stroke-width="2.0" fill="#0d0d0d"/>
<line x1="299" y1="588.5" x2="310" y2="578.5" stroke-width="2.9" />
<ellipse cx="331.7" cy="592.2" rx="5" ry="21" stroke-width="2.9" />
<line x1="324.6" y1="566.5" x2="324.6" y2="609" stroke-width="4.1" />
<rect x="326" y="588.5" width="38.5" height="11.5" stroke-width="2.9" />
<rect x="367" y="585.5" width="11" height="16.5" stroke-width="4.1" />
<line x1="372.5" y1="586" x2="372.5" y2="602" stroke-width="2.9" />
<line x1="378" y1="589.8" x2="512" y2="590.3" stroke-width="2.9" />
<line x1="378" y1="595.5" x2="512" y2="596.3" stroke-width="2.9" />
<line x1="378" y1="601" x2="380" y2="601.1" stroke-width="2.9" />
<line x1="201.5" y1="554.7" x2="253" y2="553.5" stroke-width="2.9" />
<line x1="211" y1="561.7" x2="236.5" y2="561.7" stroke-width="2.9" />
<line x1="221" y1="572.2" x2="236" y2="572.2" stroke-width="2.9" />
<line x1="320" y1="528.5" x2="380" y2="557.5" stroke-width="2.5" />
<line x1="320" y1="563" x2="391" y2="541.5" stroke-width="2.5" />
<line x1="409" y1="535" x2="428" y2="529" stroke-width="2.0" />
<line x1="436" y1="526" x2="486" y2="512.5" stroke-width="2.9" />
<circle cx="399" cy="538" r="1.2" stroke-width="1.2" fill="#0d0d0d"/>
<circle cx="390" cy="562" r="1.2" stroke-width="1.2" fill="#0d0d0d"/>
<line x1="408" y1="570" x2="452" y2="588" stroke-width="2.0" />
<line x1="325" y1="524" x2="485" y2="512" stroke-width="2.9" />
<line x1="487.5" y1="512" x2="487.5" y2="603" stroke-width="5.2" />
<line x1="508.5" y1="514" x2="508.5" y2="577" stroke-width="2.9" />
<polyline points="492,520 506,570" stroke-width="2.0" />
<polyline points="506,520 492,570" stroke-width="2.0" />
<polyline points="492,545 499,530 506,545" stroke-width="2.0" />
<line x1="489" y1="577" x2="512" y2="577" stroke-width="2.9" />
<path d="M531.5,503 Q531.5,495 542,495 Q552.5,495 552.5,503 L552.5,527 Q552.5,535 542,535 Q531.5,535 531.5,527 Z" stroke-width="2.9" />
<line x1="529" y1="501" x2="555" y2="501" stroke-width="2.9" />
<line x1="529" y1="528" x2="555" y2="528" stroke-width="2.9" />
<polyline points="526,566 526,558 536,558 536,554 541,554 541,545 543,545 543,566" stroke-width="2.9" />
<line x1="521" y1="568.5" x2="547" y2="568.5" stroke-width="5.2" />
<rect x="524" y="572" width="22" height="5" stroke-width="2.0" />
<line x1="550" y1="552" x2="550" y2="578" stroke-width="4.1" />
<rect x="553" y="556" width="7" height="16" stroke-width="2.9" />
<rect x="569" y="558" width="8" height="14" stroke-width="2.9" />
<line x1="560" y1="564" x2="569" y2="564" stroke-width="2.9" />
<rect x="581.5" y="539.5" width="25.0" height="6.5" stroke-width="3.3" />
<rect x="586" y="545" width="16.5" height="21" stroke-width="2.9" />
<rect x="580" y="567.5" width="25" height="9.5" stroke-width="2.9" />
<rect x="578" y="577.5" width="39" height="30.0" stroke-width="3.3" />
<line x1="512" y1="577.8" x2="646" y2="576.8" stroke-width="2.9" />
<line x1="590" y1="578" x2="590" y2="607" stroke-width="2.9" />
<rect x="617" y="580" width="17" height="26" stroke-width="2.9" />
<line x1="621" y1="580" x2="621" y2="606" stroke-width="2.9" />
<path d="M634,584 L640,587 L640,600 L634,603" stroke-width="2.9" />
<path d="M512,586 L516,584 L516,603 L512,601 Z" stroke-width="2.9" />
<line x1="519" y1="585" x2="519" y2="602" stroke-width="4.1" />
<rect x="525" y="586" width="19" height="18" stroke-width="2.9" />
<circle cx="554" cy="594.5" r="6" stroke-width="2.9" />
<line x1="548" y1="594.5" x2="560" y2="594.5" stroke-width="2.9" />
<line x1="554" y1="588.5" x2="554" y2="600.5" stroke-width="2.9" />
<rect x="568" y="585" width="10" height="18" stroke-width="2.9" />
<line x1="544" y1="594" x2="548" y2="594" stroke-width="2.9" />
<line x1="560" y1="594" x2="568" y2="594" stroke-width="2.9" />
<line x1="647.5" y1="513" x2="647.5" y2="616" stroke-width="5.2" />
<line x1="652.5" y1="520" x2="652.5" y2="570" stroke-width="2.9" />
<line x1="640" y1="593.5" x2="682" y2="593.5" stroke-width="4.1" />
<ellipse cx="643" cy="594" rx="2.8" ry="8.5" stroke-width="2.9" fill="#0d0d0d"/>
<ellipse cx="663.5" cy="596" rx="6.5" ry="14" stroke-width="4.1" />
<ellipse cx="663.5" cy="596" rx="2.5" ry="14" stroke-width="2.0" />
<line x1="680" y1="582" x2="680" y2="614" stroke-width="5.2" />
<path d="M657.5,494 Q668,494 674,506 L675,535 Q676,552 690,556" stroke-width="2.9" />
<path d="M657.5,502 Q663,504 664,512 L664.5,538 Q665,562 682,568" stroke-width="2.9" />
<line x1="662" y1="513" x2="676" y2="513" stroke-width="2.9" />
<line x1="663" y1="532" x2="676" y2="532" stroke-width="2.9" />
<line x1="656" y1="508" x2="664" y2="500" stroke-width="2.9" />
<path d="M682.5,614 L682.5,556 L790,556 Q796,557 796,563 L796,617" stroke-width="2.9" />
<line x1="682.5" y1="559" x2="790" y2="559" stroke-width="5.2" stroke-dasharray="8 4.5"/>
<line x1="682.5" y1="574" x2="796" y2="574" stroke-width="2.9" />
<line x1="682.5" y1="614.5" x2="796" y2="617" stroke-width="2.9" />
<line x1="682.5" y1="592.5" x2="796" y2="592.5" stroke-width="2.9" />
<path d="M807.5,551 Q807.5,546 815,546 Q822.5,546 822.5,551 L822.5,566 Q822.5,570 819,571 L819,582 L822.5,585 L822.5,605 L807.5,605 L807.5,585 L811,582 L811,571 Q807.5,570 807.5,566 Z" stroke-width="2.9" />
<line x1="807.5" y1="576" x2="822.5" y2="576" stroke-width="2.0" />
<line x1="835.5" y1="517" x2="835.5" y2="629" stroke-width="5.2" />
<line x1="831" y1="531" x2="831" y2="586" stroke-width="4.1" />
<path d="M797,506 Q797,503 801,503 L818,503 L818,512 L801,512 Q797,511 797,506 Z" stroke-width="2.9" />
<line x1="805" y1="512" x2="805" y2="524" stroke-width="2.9" />
<line x1="813" y1="512" x2="813" y2="524" stroke-width="2.9" />
<line x1="803" y1="526" x2="816" y2="528" stroke-width="2.9" />
<line x1="838" y1="590" x2="1003" y2="590" stroke-width="2.9" />
<polyline points="840,626 840,597.5 995,597.5 995,626" stroke-width="4.1" />
<line x1="838" y1="626.5" x2="998" y2="626.5" stroke-width="4.1" />
<line x1="850.0" y1="602" x2="850.0" y2="625" stroke-width="2.9" />
<line x1="861.9" y1="602" x2="861.9" y2="625" stroke-width="2.9" />
<line x1="873.8" y1="602" x2="873.8" y2="625" stroke-width="2.9" />
<line x1="885.7" y1="602" x2="885.7" y2="625" stroke-width="2.9" />
<line x1="897.6" y1="602" x2="897.6" y2="625" stroke-width="2.9" />
<line x1="909.5" y1="602" x2="909.5" y2="625" stroke-width="2.9" />
<line x1="921.4" y1="602" x2="921.4" y2="625" stroke-width="2.9" />
<line x1="933.3" y1="602" x2="933.3" y2="625" stroke-width="2.9" />
<line x1="945.2" y1="602" x2="945.2" y2="625" stroke-width="2.9" />
<line x1="957.1" y1="602" x2="957.1" y2="625" stroke-width="2.9" />
<line x1="969.0" y1="602" x2="969.0" y2="625" stroke-width="2.9" />
<line x1="980.9" y1="602" x2="980.9" y2="625" stroke-width="2.9" />
<line x1="992.8" y1="602" x2="992.8" y2="625" stroke-width="2.9" />
<path d="M998.5,518 Q1008,580 1005,637" stroke-width="5.2" />
<path d="M997,536 Q980,552.5 997,569" stroke-width="2.9" />
<line x1="996.5" y1="531" x2="996.5" y2="574" stroke-width="2.9" />
<circle cx="1033.3" cy="558.8" r="11" stroke-width="4.1" />
<line x1="1024.3" y1="558.8" x2="1042.3" y2="558.8" stroke-width="2.9" />
<line x1="1033.3" y1="549.8" x2="1033.3" y2="567.8" stroke-width="2.9" />
<circle cx="1033.3" cy="558.8" r="2.5" stroke-width="2.9" fill="#0d0d0d"/>
<circle cx="1062.5" cy="558.8" r="11" stroke-width="4.1" />
<line x1="1053.5" y1="558.8" x2="1071.5" y2="558.8" stroke-width="2.9" />
<line x1="1062.5" y1="549.8" x2="1062.5" y2="567.8" stroke-width="2.9" />
<circle cx="1062.5" cy="558.8" r="2.5" stroke-width="2.9" fill="#0d0d0d"/>
<rect x="1075.5" y="517.5" width="16.0" height="66.0" stroke-width="4.1" />
<line x1="1070.5" y1="583.5" x2="1100" y2="583.5" stroke-width="2.9" />
<rect x="1073.5" y="584" width="21.5" height="54" stroke-width="4.1" />
<line x1="1079" y1="517" x2="1088" y2="517" stroke-width="5.2" />
<line x1="1006" y1="597" x2="1073" y2="597" stroke-width="2.9" />
<line x1="1003.75" y1="635" x2="1042.5" y2="598.75" stroke-width="4.1" />
<line x1="1006" y1="605" x2="1020" y2="618" stroke-width="2.9" />
<line x1="1043.5" y1="598" x2="1043.5" y2="637" stroke-width="2.9" />
<line x1="1046" y1="602" x2="1070" y2="636" stroke-width="2.0" stroke-dasharray="14 5 2 5"/>
<line x1="1070" y1="602" x2="1046" y2="636" stroke-width="2.0" stroke-dasharray="14 5 2 5"/>
<line x1="1025" y1="625" x2="1040" y2="637" stroke-width="2.0" stroke-dasharray="14 5 2 5"/>
<line x1="1100" y1="597" x2="1141" y2="597" stroke-width="2.9" />
<rect x="1105" y="598.5" width="32.5" height="39.0" stroke-width="2.9" />
<line x1="1105" y1="598.5" x2="1122" y2="620" stroke-width="2.9" />
<line x1="1137.5" y1="598.5" x2="1107" y2="637" stroke-width="4.1" />
<line x1="1124" y1="622" x2="1137" y2="636" stroke-width="2.0" stroke-dasharray="14 5 2 5"/>
<line x1="1100" y1="598" x2="1100" y2="637" stroke-width="2.9" />
<path d="M1143,518 Q1136,570 1142.5,637.5" stroke-width="5.2" />
<path d="M1143.5,536 Q1160,552.5 1143.5,569" stroke-width="2.9" />
<line x1="1143.5" y1="531" x2="1143.5" y2="574" stroke-width="2.9" />
<line x1="1143" y1="586.5" x2="1312" y2="586.5" stroke-width="2.9" />
<polyline points="1145,624.5 1145,595.5 1308,595.5 1308,624.5" stroke-width="4.1" />
<line x1="1143" y1="625" x2="1311" y2="625" stroke-width="4.1" />
<line x1="1146" y1="630" x2="1311" y2="630" stroke-width="2.9" />
<line x1="1153.8" y1="600.8" x2="1153.8" y2="624" stroke-width="3.3" />
<line x1="1165.7" y1="600.8" x2="1165.7" y2="624" stroke-width="3.3" />
<line x1="1177.6" y1="600.8" x2="1177.6" y2="624" stroke-width="3.3" />
<line x1="1189.5" y1="600.8" x2="1189.5" y2="624" stroke-width="3.3" />
<line x1="1201.3999999999999" y1="600.8" x2="1201.3999999999999" y2="624" stroke-width="3.3" />
<line x1="1213.3" y1="600.8" x2="1213.3" y2="624" stroke-width="3.3" />
<line x1="1225.2" y1="600.8" x2="1225.2" y2="624" stroke-width="3.3" />
<line x1="1237.1" y1="600.8" x2="1237.1" y2="624" stroke-width="3.3" />
<line x1="1249.0" y1="600.8" x2="1249.0" y2="624" stroke-width="3.3" />
<line x1="1260.8999999999999" y1="600.8" x2="1260.8999999999999" y2="624" stroke-width="3.3" />
<line x1="1272.8" y1="600.8" x2="1272.8" y2="624" stroke-width="3.3" />
<line x1="1284.7" y1="600.8" x2="1284.7" y2="624" stroke-width="3.3" />
<line x1="1296.6" y1="600.8" x2="1296.6" y2="624" stroke-width="3.3" />
<path d="M957.5,494 L981,434 Q984,427.5 991,427.5 L1110,426.5" stroke-width="2.9" />
<polyline points="977.5,494 997.5,439 1005,439.5 986,494" stroke-width="2.9" />
<polyline points="1016.5,494 1020,439 1026.5,439 1026.5,494" stroke-width="2.9" />
<polyline points="1042.5,494 1044,437.5 1051,437.5 1050.5,494" stroke-width="2.9" />
<line x1="1036" y1="426.5" x2="1062.5" y2="371" stroke-width="2.9" />
<path d="M1053,495 L1053,447 Q1054,438 1066,432 L1072,429" stroke-width="5.2" />
<path d="M1092,429 L1110,429 M1133,431 Q1141,436 1143,446 Q1147,455 1147.5,470 L1147.5,495" stroke-width="5.2" />
<path d="M1078.2,211 Q1081,203 1083.8,211 L1085.3,271 L1077,271 Z" stroke-width="2.9" fill="#0d0d0d"/>
<line x1="1081.2" y1="254" x2="1081.2" y2="268" stroke-width="2.9" stroke="#fff"/>
<rect x="1077" y="271" width="8.5" height="6" stroke-width="2.9" />
<line x1="1078" y1="277" x2="1078" y2="432" stroke-width="3.4999999999999996" />
<line x1="1084.3" y1="277" x2="1084.3" y2="432" stroke-width="3.4999999999999996" />
<polyline points="1076,368 1072,372 1065,430" stroke-width="2.9" />
<polyline points="1087,368 1090.5,372 1098.5,430" stroke-width="2.9" />
<line x1="1071" y1="398" x2="1077" y2="398" stroke-width="2.9" />
<line x1="1086" y1="398" x2="1093" y2="398" stroke-width="2.9" />
<line x1="1074" y1="372" x2="1069" y2="430" stroke-width="2.0" />
<line x1="1089" y1="372" x2="1094" y2="430" stroke-width="2.0" />
<rect x="1076.5" y="400" width="10.5" height="24" stroke-width="2.9" />
<line x1="1066" y1="428" x2="1099" y2="428" stroke-width="4.1" />
<polyline points="1070,432 1073,448 1078,452 1086,452 1091,448 1094,432" stroke-width="2.9" />
<rect x="1078.5" y="432" width="7.0" height="30" stroke-width="2.9" />
<line x1="1076" y1="455" x2="1088" y2="455" stroke-width="4.1" />
<line x1="1078" y1="464" x2="1086" y2="464" stroke-width="5.2" />
<rect x="1111.5" y="429" width="21.0" height="15" stroke-width="4.1" />
<line x1="1112.5" y1="416.5" x2="1162" y2="416.5" stroke-width="6.2" />
<rect x="1117" y="420" width="11" height="8" stroke-width="2.9" />
<rect x="1157" y="412" width="6" height="8" stroke-width="2.9" />
<line x1="1133" y1="428" x2="1160" y2="428" stroke-width="4.1" />
<rect x="1160" y="423" width="6" height="7" stroke-width="2.9" />
<circle cx="1156.3" cy="438.8" r="6" stroke-width="2.9" />
<circle cx="1170" cy="437.5" r="4" stroke-width="2.9" />
<rect x="1167" y="422" width="5" height="8" stroke-width="2.9" />
<rect x="1156.5" y="462" width="5.0" height="32" stroke-width="2.9" />
<circle cx="1159" cy="459" r="3.5" stroke-width="2.9" />
<rect x="1166" y="452" width="5.5" height="42" stroke-width="2.9" />
<rect x="1165" y="446" width="16" height="8" stroke-width="2.9" />
<rect x="1175" y="458" width="5" height="36" stroke-width="2.9" />
<rect x="1183.5" y="465" width="5.5" height="29" stroke-width="2.9" />
<line x1="1180" y1="463.5" x2="1192" y2="463.5" stroke-width="4.1" />
<path d="M1170,425 Q1190,440 1210,494" stroke-width="2.9" />
<path d="M1172,431 Q1187,445 1201,494" stroke-width="2.0" />
<line x1="1053" y1="494" x2="1053" y2="517" stroke-width="5.2" />
<line x1="1147.5" y1="494" x2="1147.5" y2="517" stroke-width="5.2" />
<rect x="1074" y="507" width="14" height="13" stroke-width="2.9" />
<path d="M1098,518 L1098,512 Q1110,500 1123,512 L1123,518" stroke-width="4.1" />
<line x1="1314" y1="519" x2="1314" y2="631" stroke-width="5.2" />
<polyline points="1316,595 1349,595 1349,630" stroke-width="2.9" />
<line x1="1317" y1="628" x2="1347" y2="596" stroke-width="2.9" />
<line x1="1317" y1="598" x2="1332" y2="612" stroke-width="2.9" />
<line x1="1334" y1="615" x2="1346" y2="627" stroke-width="2.0" stroke-dasharray="14 5 2 5"/>
<line x1="1363.5" y1="589" x2="1489" y2="589" stroke-width="5.2" />
<line x1="1363.5" y1="589" x2="1363.5" y2="629" stroke-width="4.1" />
<line x1="1440" y1="590" x2="1440" y2="621" stroke-width="4.1" />
<line x1="1375" y1="590" x2="1435" y2="620" stroke-width="2.9" />
<line x1="1367.5" y1="622.5" x2="1435" y2="591" stroke-width="2.9" />
<line x1="1450" y1="591" x2="1470" y2="605" stroke-width="2.9" />
<line x1="1442.5" y1="617.5" x2="1487.5" y2="590" stroke-width="2.9" />
<line x1="1472" y1="607" x2="1486" y2="614" stroke-width="2.0" stroke-dasharray="14 5 2 5"/>
<line x1="1490" y1="520" x2="1490" y2="614" stroke-width="5.2" />
<path d="M1473,583 L1489,586 L1473,589" stroke-width="2.9" fill="#0d0d0d"/>
<path d="M1496,578 L1502,578 Q1508,584 1502,589 L1496,589" stroke-width="2.9" />
<line x1="1514" y1="577" x2="1526" y2="577" stroke-width="2.9" />
<line x1="1514" y1="590" x2="1526" y2="590" stroke-width="2.9" />
<path d="M1531,580 L1536,587 L1541,586" stroke-width="2.9" />
<line x1="1497" y1="612" x2="1528" y2="593" stroke-width="2.9" />
<line x1="1492.5" y1="497.5" x2="1492.5" y2="614" stroke-width="4.1" />
<line x1="1492.5" y1="520" x2="1640" y2="520" stroke-width="2.9" />
<line x1="1548.7" y1="518.7" x2="1548.7" y2="608.7" stroke-width="4.1" />
<polyline points="1567.5,520 1582.5,572.5 1583.7,603" stroke-width="2.9" />
<line x1="1497" y1="522" x2="1530" y2="540" stroke-width="2.9" />
<circle cx="1535" cy="544" r="1.3" stroke-width="1.3" fill="#0d0d0d"/>
<line x1="1550" y1="550" x2="1580" y2="565" stroke-width="2.9" />
<line x1="1550" y1="578.7" x2="1580" y2="560" stroke-width="2.9" />
<line x1="1635" y1="525" x2="1587.5" y2="555" stroke-width="2.9" stroke-dasharray="14 5 2 5"/>
<line x1="1592.5" y1="572.5" x2="1635" y2="596" stroke-width="2.9" stroke-dasharray="14 5 2 5"/>
<path d="M1543,518 L1545,510 L1552,510 L1554,505 L1563,504 Q1569,505 1566,511 L1556,514 L1568,521" stroke-width="2.9" />
<line x1="1534" y1="519" x2="1548" y2="519" stroke-width="4.1" />
<rect x="1637.5" y="496.3" width="87.5" height="54.99999999999994" stroke-width="4.1" />
<line x1="1637.5" y1="551" x2="1637.5" y2="597.5" stroke-width="4.1" />
<line x1="1640" y1="500" x2="1680" y2="523.7" stroke-width="2.9" />
<line x1="1640" y1="547.5" x2="1680" y2="523.7" stroke-width="2.9" />
<line x1="1702" y1="510" x2="1721" y2="499" stroke-width="2.9" />
<line x1="1702" y1="536" x2="1722" y2="549" stroke-width="2.9" />
<circle cx="1691" cy="516" r="1.4" stroke-width="1.4" fill="#0d0d0d"/>
<circle cx="1692.5" cy="531" r="1.4" stroke-width="1.4" fill="#0d0d0d"/>
<path d="M942,495 L1051,494.5 M1149,493.5 L1640,495 L1725,496 L1786,497" stroke-width="2.9" />
<path d="M1088.7,363.7 L1583,444.5 L1781.8,495" stroke-width="2.0" />
<line x1="570" y1="457.5" x2="833.7" y2="457.9" stroke-width="2.3" />
<line x1="833.7" y1="455.6" x2="833.7" y2="492" stroke-width="2.9" />
<line x1="833.7" y1="457.9" x2="849.4" y2="492" stroke-width="2.9" />
<rect x="897" y="441.5" width="31" height="16.0" stroke-width="4.1" />
<line x1="918" y1="441.5" x2="918" y2="457.5" stroke-width="2.9" />
<line x1="894" y1="450.5" x2="851" y2="451.0" stroke-width="6.0" />
<polyline points="898,457.5 895,472.5 907,493.5" stroke-width="2.9" />
<polyline points="889,454.5 888,472.5 880,493.5" stroke-width="2.9" />
<line x1="896" y1="472.5" x2="887" y2="472.5" stroke-width="2.9" />
<circle cx="892" cy="451.5" r="3" stroke-width="2.9" />
<path d="M797,505.6 L1000,498 Q1018,497 1018.5,480 L1018.5,440" stroke-width="2.9" />
<path d="M818,512.7 L1003,505.5 Q1025.5,504 1025.5,482 L1025.5,440" stroke-width="2.9" />
<path d="M797,505 Q795,510 797,516 L818,516 L818,504 Z" stroke-width="2.9" />
<rect x="804" y="517" width="13" height="10" stroke-width="2.9" />
<line x1="802" y1="530" x2="818" y2="531" stroke-width="2.9" />
<line x1="976" y1="500" x2="976" y2="514" stroke-width="2.9" />
<line x1="983" y1="500" x2="983" y2="514" stroke-width="2.9" />
<polyline points="1211.7,493 1223,448 1223,493" stroke-width="2.9" />
<line x1="1223" y1="452" x2="1578" y2="453" stroke-width="2.9" />
<rect x="1580" y="445.6" width="11" height="45.39999999999998" stroke-width="2.9" />
<line x1="1577" y1="492.5" x2="1607" y2="492.5" stroke-width="5.2" />
<path d="M1233,495.5 L1524.7,495.5 L1524.7,516.5 L1233,516.5" stroke-width="4.1" />
<path d="M1233,495.5 Q1220,506 1233,516" stroke-width="4.1" />
<ellipse cx="1230" cy="506" rx="4" ry="10" stroke-width="2.9" />
<line x1="1223" y1="493.5" x2="1640" y2="494.5" stroke-width="4.1" />
<rect x="1362.8" y="510.3" width="32.200000000000045" height="24.69999999999999" stroke-width="4.1" />
<line x1="1362.8" y1="524" x2="1395" y2="524" stroke-width="2.9" />
<line x1="1379" y1="524" x2="1379" y2="535" stroke-width="2.9" />
<path d="M1786,497 Q1798,498 1799,510 Q1800,530 1789.4,563.7 Q1786,576 1770.4,579" stroke-width="3.1999999999999997" />
<line x1="1793" y1="552.5" x2="1839" y2="552.5" stroke-width="4.1" />
<line x1="1798" y1="559.5" x2="1834" y2="559.5" stroke-width="2.9" />
<line x1="1821" y1="570.8" x2="1834" y2="570.8" stroke-width="4.1" />
<line x1="430.8" y1="565" x2="434" y2="668" stroke-width="2.9" />
<line x1="497.5" y1="540" x2="502.5" y2="665" stroke-width="2.9" />
<line x1="596" y1="598.7" x2="603.7" y2="662.5" stroke-width="2.9" />
<line x1="762.5" y1="608.7" x2="756" y2="665" stroke-width="2.9" />
<line x1="911" y1="616" x2="911" y2="665" stroke-width="2.9" />
<line x1="1011" y1="632.5" x2="1015" y2="665" stroke-width="2.9" />
<line x1="1063.7" y1="632.5" x2="1068.7" y2="665" stroke-width="2.9" />
<line x1="1256" y1="613.7" x2="1253.7" y2="662.5" stroke-width="2.9" />
<line x1="1387.5" y1="608.7" x2="1398.7" y2="670" stroke-width="2.9" />
<line x1="1510" y1="602.5" x2="1541.2" y2="675" stroke-width="2.9" />
<line x1="1117" y1="227.5" x2="1086.2" y2="263.7" stroke-width="4.1" />
<line x1="1186" y1="265" x2="1126" y2="460" stroke-width="2.9" />
<line x1="1351" y1="297" x2="1296" y2="504.6" stroke-width="2.9" />
<line x1="1614" y1="350" x2="1663.7" y2="504.6" stroke-width="2.9" />
<text x="434" y="691" class="lbb" text-anchor="middle" stroke="none">1</text>
<text x="502.5" y="691" class="lbb" text-anchor="middle" stroke="none">2</text>
<text x="605" y="691" class="lbb" text-anchor="middle" stroke="none">10</text>
<text x="750" y="691" class="lbb" text-anchor="middle" stroke="none">9</text>
<text x="914" y="691" class="lbb" text-anchor="middle" stroke="none">11</text>
<text x="1017.5" y="691" class="lbb" text-anchor="middle" stroke="none">3</text>
<text x="1069" y="691" class="lbb" text-anchor="middle" stroke="none">4</text>
<text x="1256" y="694" class="lbb" text-anchor="middle" stroke="none">11</text>
<text x="1401" y="696" class="lbb" text-anchor="middle" stroke="none">2</text>
<text x="1545" y="698" class="lbb" text-anchor="middle" stroke="none">1</text>
<text x="1126" y="222" class="lb" text-anchor="middle" >8</text>
<text x="1196" y="254" class="lb" text-anchor="middle" >6</text>
<text x="1357" y="287" class="lb" text-anchor="middle" >7</text>
<text x="1610" y="341" class="lb" text-anchor="middle" >5</text>
<text x="1684" y="270" class="ttl" text-anchor="middle" stroke="none">пр. М-III-5</text></g>
<path d="M236,1582 Q227,1584 227.3,1591 Q227.5,1597.5 236,1599.5" stroke-width="2.9" />
<path d="M236,1582 L318,1565 L380,1555 L426.7,1549.3 L560,1549 L860,1552.5 L1068,1551.7" stroke-width="3.3" />
<path d="M236,1599.5 L285,1619 L330,1633 L376.7,1648 L450,1658 L535,1667 L620,1675" stroke-width="2.9" />
<path d="M535,1667 L620,1675 L680,1682 L716,1688 L751,1693.5 L823,1700.5 L920,1707 L1008,1709.8 L1120,1711.4 L1250,1711.5 L1380,1710.5 L1470,1709 L1560,1701 L1645,1690.5 L1792.5,1680 L1817.5,1666" stroke-width="3.1999999999999997" />
<path d="M526.7,1662 L620,1668 L680,1673 L751,1678 L823,1684.3 L903,1689.5 L980,1694.5 L1050,1697 L1120,1698.6 L1300,1699.5 L1400,1699 L1470,1698.7 L1590,1690 L1717.5,1677.5" stroke-width="5.2" />
<path d="M1715,1677.8 L1780,1670 L1871,1657.4 L1974,1644 L2023,1638" stroke-width="4.1" />
<path d="M526.7,1571 L560,1573 L716,1575 L903,1576.7 L1050,1578" stroke-width="5.2" />
<path d="M1343.7,1578.7 L1505,1578.7 L1717.5,1580" stroke-width="5.2" />
<path d="M1717.5,1580 L1868.7,1583.7" stroke-width="2.9" />
<path d="M318,1565 L447.5,1508.7 L860,1456.7 L1188,1415" stroke-width="2.3" />
<line x1="1188" y1="1415" x2="1205" y2="1415" stroke-width="2.9" />
<path d="M1205,1415 L1400,1446.7 L1650,1490 L1777.5,1515" stroke-width="2.0" />
<path d="M1802.5,1515.5 L1921.7,1548" stroke-width="2.9" />
<line x1="449.5" y1="1508.7" x2="449.5" y2="1549" stroke-width="5.2" />
<path d="M451,1517 L700,1517.5 L1071.7,1520" stroke-width="3.1999999999999997" />
<path d="M1063,1551.7 L1071.7,1520 L1078,1508 L1076.5,1501 L1082.5,1483.7 L1163.7,1483.7 L1165,1465 Q1166,1460.5 1171,1460 L1222.5,1458.7 L1232.5,1442.5 L1285,1441 Q1296,1448 1301,1458 Q1307,1480 1309,1500 L1316,1557.5" stroke-width="3.1" />
<line x1="1208" y1="1450" x2="1226" y2="1450" stroke-width="2.9" />
<g transform="translate(2.5,1056.5)"><path d="M249.5,556 L251,624 Q251.5,631 258,631.5 L323.5,634.5 L323.5,609" stroke-width="2.9" />
<line x1="292.5" y1="606.5" x2="323.5" y2="606.5" stroke-width="5.2" />
<path d="M287.5,636 L288.5,642 L339,649.2 Q346,649.5 348.5,645 L363.5,603.5" stroke-width="2.9" />
<line x1="290.8" y1="637.8" x2="350" y2="637.8" stroke-width="2.9" />
<line x1="343.5" y1="636.7" x2="346.7" y2="602.5" stroke-width="2.9" />
<line x1="346.7" y1="602.5" x2="345" y2="572" stroke-width="2.0" />
<polyline points="288.5,525 288.5,531.7 287,531.7 287,546.7 288.8,546.7 288.8,562 294.2,563 294.2,546.7 295,546.7 295,531.7 294,531.7 294,525" stroke-width="2.9" />
<rect x="286.5" y="520.6" width="13.800000000000011" height="4.0" stroke-width="2.9" />
<line x1="295" y1="538.3" x2="303.5" y2="538.3" stroke-width="2.9" />
<rect x="308.3" y="530.8" width="10.899999999999977" height="71.20000000000005" stroke-width="2.9" />
<rect x="305.5" y="524" width="14.5" height="6.7999999999999545" stroke-width="2.9" />
<line x1="304.5" y1="522.3" x2="335.5" y2="522.3" stroke-width="4.2" />
<line x1="295.8" y1="562.5" x2="295.8" y2="603" stroke-width="2.9" />
<line x1="322.5" y1="563" x2="322.5" y2="603" stroke-width="2.0" />
<path d="M296,589 L313,589 L313,602.5 L296,602.5 Z" stroke-width="2.0" fill="#0d0d0d"/>
<line x1="299" y1="588.5" x2="310" y2="578.5" stroke-width="2.9" />
<ellipse cx="331.7" cy="592.2" rx="5" ry="21" stroke-width="2.9" />
<line x1="324.6" y1="566.5" x2="324.6" y2="609" stroke-width="4.1" />
<rect x="326" y="588.5" width="38.5" height="11.5" stroke-width="2.9" />
<rect x="367" y="585.5" width="11" height="16.5" stroke-width="4.1" />
<line x1="372.5" y1="586" x2="372.5" y2="602" stroke-width="2.9" />
<line x1="201.5" y1="554.7" x2="253" y2="553.5" stroke-width="2.9" />
<line x1="211" y1="561.7" x2="236.5" y2="561.7" stroke-width="2.9" />
<line x1="221" y1="572.2" x2="236" y2="572.2" stroke-width="2.9" /></g>
<line x1="380.5" y1="1647.5" x2="579" y2="1649.5" stroke-width="2.9" />
<line x1="380.5" y1="1653.5" x2="579" y2="1655.5" stroke-width="2.9" />
<line x1="381" y1="1658" x2="540" y2="1667" stroke-width="2.9" />
<line x1="415" y1="1575.4" x2="415" y2="1640" stroke-width="2.0" />
<path d="M327,1583.7 L420,1574 L522.5,1568.3" stroke-width="2.9" />
<line x1="322.5" y1="1585" x2="450" y2="1642" stroke-width="2.0" />
<line x1="450" y1="1642" x2="520" y2="1664" stroke-width="2.0" />
<line x1="322.5" y1="1619.5" x2="430" y2="1590" stroke-width="2.3" />
<line x1="430" y1="1590" x2="522" y2="1569" stroke-width="2.3" />
<line x1="526.7" y1="1569" x2="526.7" y2="1665" stroke-width="5.2" />
<line x1="558" y1="1573" x2="558" y2="1634" stroke-width="2.9" />
<line x1="526.7" y1="1634" x2="589" y2="1634" stroke-width="2.9" />
<line x1="531" y1="1582" x2="555" y2="1632" stroke-width="2.0" />
<line x1="555" y1="1582" x2="531" y2="1632" stroke-width="2.0" />
<g transform="translate(67,1059)"><line x1="489" y1="577" x2="512" y2="577" stroke-width="2.9" />
<path d="M531.5,503 Q531.5,495 542,495 Q552.5,495 552.5,503 L552.5,527 Q552.5,535 542,535 Q531.5,535 531.5,527 Z" stroke-width="2.9" />
<line x1="529" y1="501" x2="555" y2="501" stroke-width="2.9" />
<line x1="529" y1="528" x2="555" y2="528" stroke-width="2.9" />
<polyline points="526,566 526,558 536,558 536,554 541,554 541,545 543,545 543,566" stroke-width="2.9" />
<line x1="521" y1="568.5" x2="547" y2="568.5" stroke-width="5.2" />
<rect x="524" y="572" width="22" height="5" stroke-width="2.0" />
<line x1="550" y1="552" x2="550" y2="578" stroke-width="4.1" />
<rect x="553" y="556" width="7" height="16" stroke-width="2.9" />
<rect x="569" y="558" width="8" height="14" stroke-width="2.9" />
<line x1="560" y1="564" x2="569" y2="564" stroke-width="2.9" />
<rect x="581.5" y="539.5" width="25.0" height="6.5" stroke-width="3.3" />
<rect x="586" y="545" width="16.5" height="21" stroke-width="2.9" />
<rect x="580" y="567.5" width="25" height="9.5" stroke-width="2.9" />
<rect x="578" y="577.5" width="39" height="30.0" stroke-width="3.3" />
<line x1="512" y1="577.8" x2="646" y2="576.8" stroke-width="2.9" />
<line x1="590" y1="578" x2="590" y2="607" stroke-width="2.9" />
<rect x="617" y="580" width="17" height="26" stroke-width="2.9" />
<line x1="621" y1="580" x2="621" y2="606" stroke-width="2.9" />
<path d="M634,584 L640,587 L640,600 L634,603" stroke-width="2.9" />
<path d="M512,586 L516,584 L516,603 L512,601 Z" stroke-width="2.9" />
<line x1="519" y1="585" x2="519" y2="602" stroke-width="4.1" />
<rect x="525" y="586" width="19" height="18" stroke-width="2.9" />
<circle cx="554" cy="594.5" r="6" stroke-width="2.9" />
<line x1="548" y1="594.5" x2="560" y2="594.5" stroke-width="2.9" />
<line x1="554" y1="588.5" x2="554" y2="600.5" stroke-width="2.9" />
<rect x="568" y="585" width="10" height="18" stroke-width="2.9" />
<line x1="544" y1="594" x2="548" y2="594" stroke-width="2.9" />
<line x1="560" y1="594" x2="568" y2="594" stroke-width="2.9" />
<line x1="647.5" y1="513" x2="647.5" y2="616" stroke-width="5.2" />
<line x1="652.5" y1="520" x2="652.5" y2="570" stroke-width="2.9" />
<line x1="640" y1="593.5" x2="682" y2="593.5" stroke-width="4.1" />
<ellipse cx="643" cy="594" rx="2.8" ry="8.5" stroke-width="2.9" fill="#0d0d0d"/>
<ellipse cx="663.5" cy="596" rx="6.5" ry="14" stroke-width="4.1" />
<ellipse cx="663.5" cy="596" rx="2.5" ry="14" stroke-width="2.0" />
<line x1="680" y1="582" x2="680" y2="614" stroke-width="5.2" />
<path d="M657.5,494 Q668,494 674,506 L675,535 Q676,552 690,556" stroke-width="2.9" />
<path d="M657.5,502 Q663,504 664,512 L664.5,538 Q665,562 682,568" stroke-width="2.9" />
<line x1="662" y1="513" x2="676" y2="513" stroke-width="2.9" />
<line x1="663" y1="532" x2="676" y2="532" stroke-width="2.9" />
<line x1="656" y1="508" x2="664" y2="500" stroke-width="2.9" />
<path d="M682.5,614 L682.5,556 L790,556 Q796,557 796,563 L796,617" stroke-width="2.9" />
<line x1="682.5" y1="559" x2="790" y2="559" stroke-width="5.2" stroke-dasharray="8 4.5"/>
<line x1="682.5" y1="574" x2="796" y2="574" stroke-width="2.9" />
<line x1="682.5" y1="614.5" x2="796" y2="617" stroke-width="2.9" />
<line x1="682.5" y1="592.5" x2="796" y2="592.5" stroke-width="2.9" />
<path d="M807.5,551 Q807.5,546 815,546 Q822.5,546 822.5,551 L822.5,566 Q822.5,570 819,571 L819,582 L822.5,585 L822.5,605 L807.5,605 L807.5,585 L811,582 L811,571 Q807.5,570 807.5,566 Z" stroke-width="2.9" />
<line x1="807.5" y1="576" x2="822.5" y2="576" stroke-width="2.0" />
<line x1="835.5" y1="517" x2="835.5" y2="629" stroke-width="5.2" />
<line x1="831" y1="531" x2="831" y2="586" stroke-width="4.1" />
<path d="M797,506 Q797,503 801,503 L818,503 L818,512 L801,512 Q797,511 797,506 Z" stroke-width="2.9" />
<line x1="805" y1="512" x2="805" y2="524" stroke-width="2.9" />
<line x1="813" y1="512" x2="813" y2="524" stroke-width="2.9" />
<line x1="803" y1="526" x2="816" y2="528" stroke-width="2.9" /></g>
<polyline points="637,1551 637,1565 725,1565" stroke-width="2.9" />
<path d="M863,1566 Q863,1563 867,1563 L885,1563 L885,1572 L867,1572 Q863,1571 863,1566 Z" stroke-width="2.9" />
<line x1="871" y1="1572" x2="871" y2="1584" stroke-width="2.9" />
<line x1="879" y1="1572" x2="879" y2="1584" stroke-width="2.9" />
<line x1="868" y1="1587" x2="883" y2="1588.5" stroke-width="2.9" />
<line x1="888" y1="1565" x2="1045" y2="1560.5" stroke-width="2.9" />
<line x1="888" y1="1571.7" x2="1045" y2="1578" stroke-width="2.9" />
<path d="M1045,1558 L1052,1557 L1052,1580 L1045,1579 Z" stroke-width="2.9" />
<line x1="1050" y1="1557.5" x2="1343.7" y2="1557.5" stroke-width="4.5" />
<line x1="1050" y1="1578.2" x2="1343.7" y2="1578.2" stroke-width="5.2" />
<line x1="1052.5" y1="1557" x2="1052.5" y2="1578" stroke-width="2.9" />
<line x1="1343.7" y1="1556" x2="1343.7" y2="1578.7" stroke-width="4.1" />
<path d="M1343.7,1556 L1505,1555.5 L1717.5,1555.5 L1867.5,1552.5" stroke-width="4.1" />
<line x1="903" y1="1577" x2="903" y2="1691" stroke-width="5.2" />
<line x1="898" y1="1592" x2="898" y2="1645" stroke-width="4.1" />
<line x1="905" y1="1648" x2="1112" y2="1648" stroke-width="4.1" />
<polyline points="907,1684.5 907,1656.7 1103,1656.7 1103,1684.5" stroke-width="4.1" />
<line x1="905" y1="1685" x2="1106" y2="1685" stroke-width="4.1" />
<line x1="916.4" y1="1660" x2="916.4" y2="1684" stroke-width="2.9" />
<line x1="928.16" y1="1660" x2="928.16" y2="1684" stroke-width="2.9" />
<line x1="939.92" y1="1660" x2="939.92" y2="1684" stroke-width="2.9" />
<line x1="951.68" y1="1660" x2="951.68" y2="1684" stroke-width="2.9" />
<line x1="963.4399999999999" y1="1660" x2="963.4399999999999" y2="1684" stroke-width="2.9" />
<line x1="975.1999999999999" y1="1660" x2="975.1999999999999" y2="1684" stroke-width="2.9" />
<line x1="986.96" y1="1660" x2="986.96" y2="1684" stroke-width="2.9" />
<line x1="998.72" y1="1660" x2="998.72" y2="1684" stroke-width="2.9" />
<line x1="1010.48" y1="1660" x2="1010.48" y2="1684" stroke-width="2.9" />
<line x1="1022.24" y1="1660" x2="1022.24" y2="1684" stroke-width="2.9" />
<line x1="1034.0" y1="1660" x2="1034.0" y2="1684" stroke-width="2.9" />
<line x1="1045.76" y1="1660" x2="1045.76" y2="1684" stroke-width="2.9" />
<line x1="1057.52" y1="1660" x2="1057.52" y2="1684" stroke-width="2.9" />
<line x1="1069.28" y1="1660" x2="1069.28" y2="1684" stroke-width="2.9" />
<line x1="1081.04" y1="1660" x2="1081.04" y2="1684" stroke-width="2.9" />
<line x1="1092.8" y1="1660" x2="1092.8" y2="1684" stroke-width="2.9" />
<path d="M1110,1580 Q1120,1633 1106.7,1698" stroke-width="5.2" />
<path d="M1108,1602 Q1091,1618 1108,1634" stroke-width="2.9" />
<line x1="1107" y1="1597" x2="1107" y2="1640" stroke-width="2.9" />
<circle cx="1142.7" cy="1617.7" r="11" stroke-width="4.1" />
<line x1="1133.7" y1="1617.7" x2="1151.7" y2="1617.7" stroke-width="2.9" />
<line x1="1142.7" y1="1608.7" x2="1142.7" y2="1626.7" stroke-width="2.9" />
<circle cx="1142.7" cy="1617.7" r="2.5" stroke-width="2.9" fill="#0d0d0d"/>
<circle cx="1171.7" cy="1617.7" r="11" stroke-width="4.1" />
<line x1="1162.7" y1="1617.7" x2="1180.7" y2="1617.7" stroke-width="2.9" />
<line x1="1171.7" y1="1608.7" x2="1171.7" y2="1626.7" stroke-width="2.9" />
<circle cx="1171.7" cy="1617.7" r="2.5" stroke-width="2.9" fill="#0d0d0d"/>
<rect x="1185.5" y="1580" width="17.0" height="61.5" stroke-width="4.1" />
<line x1="1180" y1="1641.7" x2="1211" y2="1641.7" stroke-width="2.9" />
<rect x="1183" y="1642" width="22" height="58" stroke-width="4.1" />
<line x1="1189" y1="1580" x2="1199" y2="1580" stroke-width="5.2" />
<line x1="1113" y1="1657.5" x2="1183" y2="1657.5" stroke-width="2.9" />
<line x1="1112" y1="1697" x2="1150" y2="1659" stroke-width="4.1" />
<line x1="1114" y1="1665" x2="1130" y2="1680" stroke-width="2.9" />
<line x1="1153" y1="1658" x2="1153" y2="1699" stroke-width="2.9" />
<line x1="1155" y1="1661" x2="1181" y2="1697" stroke-width="2.0" stroke-dasharray="14 5 2 5"/>
<line x1="1181" y1="1661" x2="1155" y2="1697" stroke-width="2.0" stroke-dasharray="14 5 2 5"/>
<line x1="1132" y1="1683" x2="1150" y2="1698" stroke-width="2.0" stroke-dasharray="14 5 2 5"/>
<line x1="1210" y1="1657.5" x2="1292" y2="1657.5" stroke-width="2.9" />
<line x1="1210" y1="1658" x2="1210" y2="1699" stroke-width="2.9" />
<line x1="1215" y1="1658" x2="1215" y2="1699" stroke-width="2.9" />
<line x1="1215" y1="1659" x2="1286" y2="1697" stroke-width="2.9" />
<line x1="1216" y1="1697" x2="1250" y2="1679" stroke-width="2.9" />
<line x1="1252" y1="1677" x2="1286" y2="1660" stroke-width="2.9" stroke-dasharray="14 5 2 5"/>
<path d="M1295,1580 Q1282,1633 1298,1700" stroke-width="5.2" />
<path d="M1296,1602 Q1314,1618 1296,1634" stroke-width="2.9" />
<line x1="1296.5" y1="1597" x2="1296.5" y2="1640" stroke-width="2.9" />
<line x1="1296" y1="1648" x2="1503" y2="1648" stroke-width="2.9" />
<polyline points="1299,1686.5 1299,1655.5 1498,1655.5 1498,1686.5" stroke-width="4.1" />
<line x1="1297" y1="1687" x2="1501" y2="1687" stroke-width="4.1" />
<line x1="1299" y1="1691" x2="1501" y2="1691" stroke-width="2.9" />
<line x1="1309.3" y1="1660.5" x2="1309.3" y2="1685" stroke-width="2.9" />
<line x1="1321.06" y1="1660.5" x2="1321.06" y2="1685" stroke-width="2.9" />
<line x1="1332.82" y1="1660.5" x2="1332.82" y2="1685" stroke-width="2.9" />
<line x1="1344.58" y1="1660.5" x2="1344.58" y2="1685" stroke-width="2.9" />
<line x1="1356.34" y1="1660.5" x2="1356.34" y2="1685" stroke-width="2.9" />
<line x1="1368.1" y1="1660.5" x2="1368.1" y2="1685" stroke-width="2.9" />
<line x1="1379.86" y1="1660.5" x2="1379.86" y2="1685" stroke-width="2.9" />
<line x1="1391.62" y1="1660.5" x2="1391.62" y2="1685" stroke-width="2.9" />
<line x1="1403.3799999999999" y1="1660.5" x2="1403.3799999999999" y2="1685" stroke-width="2.9" />
<line x1="1415.1399999999999" y1="1660.5" x2="1415.1399999999999" y2="1685" stroke-width="2.9" />
<line x1="1426.8999999999999" y1="1660.5" x2="1426.8999999999999" y2="1685" stroke-width="2.9" />
<line x1="1438.6599999999999" y1="1660.5" x2="1438.6599999999999" y2="1685" stroke-width="2.9" />
<line x1="1450.42" y1="1660.5" x2="1450.42" y2="1685" stroke-width="2.9" />
<line x1="1462.1799999999998" y1="1660.5" x2="1462.1799999999998" y2="1685" stroke-width="2.9" />
<line x1="1473.94" y1="1660.5" x2="1473.94" y2="1685" stroke-width="2.9" />
<line x1="1485.7" y1="1660.5" x2="1485.7" y2="1685" stroke-width="2.9" />
<path d="M1162.5,1557.5 L1161.5,1510 Q1162,1502 1172,1498 L1183,1494.5" stroke-width="5.2" />
<path d="M1203,1495 L1212,1496 M1234,1496 Q1246,1500 1252,1508 Q1255,1515 1255,1530 L1255,1557.5" stroke-width="5.2" />
<path d="M1212.5,1502.5 L1212.5,1494 Q1223.5,1478 1235,1494 L1235,1502.5 Z" stroke-width="2.9" />
<line x1="1256" y1="1507.5" x2="1305" y2="1507.5" stroke-width="2.9" />
<path d="M1194,1266.7 Q1196.8,1258.7 1199.6,1266.7 L1201,1327 L1192.8,1327 Z" stroke-width="2.9" fill="#0d0d0d"/>
<line x1="1197" y1="1310" x2="1197" y2="1324" stroke-width="2.9" stroke="#fff"/>
<rect x="1192.8" y="1327" width="8.400000000000091" height="6" stroke-width="2.9" />
<line x1="1193.8" y1="1333" x2="1193.8" y2="1418" stroke-width="3.4999999999999996" />
<line x1="1200.2" y1="1333" x2="1200.2" y2="1418" stroke-width="3.4999999999999996" />
<polyline points="1191,1417 1182.5,1458.7 1183.5,1507.5 1187,1512" stroke-width="3.1999999999999997" />
<polyline points="1201.5,1417 1210,1458.7 1206.5,1507.5 1203,1512" stroke-width="3.1999999999999997" />
<line x1="1182.5" y1="1459" x2="1210" y2="1459" stroke-width="2.9" />
<line x1="1189" y1="1460" x2="1189" y2="1506" stroke-width="2.9" />
<line x1="1193.5" y1="1460" x2="1193.5" y2="1512" stroke-width="2.9" />
<line x1="1200" y1="1460" x2="1200" y2="1512" stroke-width="2.9" />
<line x1="1204.5" y1="1460" x2="1204.5" y2="1506" stroke-width="2.9" />
<rect x="1188.5" y="1508" width="14.5" height="7" stroke-width="4.1" />
<line x1="1192" y1="1518" x2="1200" y2="1518" stroke-width="5.2" />
<line x1="1196" y1="1515" x2="1196" y2="1524" stroke-width="4.1" />
<path d="M1128.5,1494 L1128.5,1540 Q1128,1553 1117,1555" stroke-width="2.9" />
<path d="M1137,1494 L1137,1556" stroke-width="2.9" />
<path d="M1123,1494 L1128,1489 L1138,1489 L1142,1494" stroke-width="2.9" />
<line x1="1123" y1="1494.5" x2="1142" y2="1494.5" stroke-width="2.9" />
<rect x="1257.5" y="1480" width="5.0" height="26" stroke-width="2.9" />
<line x1="1256" y1="1478" x2="1264" y2="1478" stroke-width="4.1" />
<rect x="1271.5" y="1470" width="5.5" height="36" stroke-width="2.9" />
<line x1="1266" y1="1467" x2="1279" y2="1465" stroke-width="5.2" />
<rect x="1290" y="1472" width="7" height="34" stroke-width="2.9" />
<circle cx="1293.5" cy="1468" r="4" stroke-width="4.1" />
<line x1="1287" y1="1474" x2="1300" y2="1474" stroke-width="4.1" />
<rect x="1398" y="1502" width="31" height="16" stroke-width="4.1" />
<line x1="1408" y1="1502" x2="1408" y2="1518" stroke-width="2.9" />
<line x1="1432" y1="1511" x2="1475" y2="1511.5" stroke-width="6.0" />
<polyline points="1428,1518 1431,1533 1419,1554" stroke-width="2.9" />
<polyline points="1437,1515 1438,1533 1446,1554" stroke-width="2.9" />
<line x1="1430" y1="1533" x2="1439" y2="1533" stroke-width="2.9" />
<circle cx="1434" cy="1512" r="3" stroke-width="2.9" />
<polyline points="1488.7,1554 1502.5,1526 1787.5,1526" stroke-width="2.9" />
<line x1="1502.5" y1="1524" x2="1502.5" y2="1555" stroke-width="2.9" />
<rect x="1789" y="1516" width="7" height="38" stroke-width="2.9" />
<line x1="1505" y1="1578.7" x2="1505" y2="1695" stroke-width="5.2" />
<path d="M1508,1566 Q1508,1559 1519,1559 Q1530.5,1559 1530.5,1566 L1530.5,1591 Q1530.5,1598.5 1519,1598.5 Q1508,1598.5 1508,1591 Z" stroke-width="2.9" />
<line x1="1505.5" y1="1565" x2="1533" y2="1565" stroke-width="2.9" />
<line x1="1505.5" y1="1592" x2="1533" y2="1592" stroke-width="2.9" />
<polyline points="1588.7,1556 1588.7,1578 1620,1578 1620,1556" stroke-width="2.9" />
<circle cx="1603.7" cy="1561.5" r="10.5" stroke-width="4.1" />
<path d="M1597.7,1551.5 L1600.7,1546.5 L1606.7,1546.5 L1609.7,1551.5 Z" stroke-width="2.0" fill="#0d0d0d"/>
<line x1="1591.7" y1="1563.5" x2="1615.7" y2="1563.5" stroke-width="2.9" />
<line x1="1603.7" y1="1571.5" x2="1603.7" y2="1588.5" stroke-width="2.9" />
<line x1="1597.7" y1="1589.0" x2="1609.7" y2="1589.0" stroke-width="4.1" />
<path d="M1592.5,1615 Q1581,1625 1592.5,1634.5" stroke-width="2.9" />
<line x1="1592" y1="1608.7" x2="1592" y2="1640" stroke-width="4.1" />
<line x1="1592.5" y1="1615" x2="1730" y2="1615" stroke-width="4.1" />
<line x1="1592.5" y1="1634.5" x2="1725" y2="1634.5" stroke-width="4.1" />
<line x1="1740" y1="1615" x2="1872" y2="1615" stroke-width="2.9" />
<line x1="1735" y1="1634.5" x2="1872" y2="1633" stroke-width="2.9" />
<line x1="1590" y1="1648" x2="1717.5" y2="1648" stroke-width="5.2" />
<line x1="1591" y1="1648" x2="1591" y2="1690" stroke-width="4.1" />
<line x1="1666" y1="1648" x2="1666" y2="1685" stroke-width="4.1" />
<line x1="1507.5" y1="1655" x2="1587.5" y2="1655" stroke-width="2.9" />
<line x1="1510" y1="1657.5" x2="1587.5" y2="1690" stroke-width="2.9" stroke-dasharray="24 6 3 6"/>
<line x1="1510" y1="1692" x2="1587.5" y2="1657.5" stroke-width="2.9" stroke-dasharray="24 6 3 6"/>
<line x1="1602.5" y1="1650" x2="1665" y2="1682.5" stroke-width="2.9" />
<line x1="1592.5" y1="1682.5" x2="1665" y2="1650" stroke-width="2.9" />
<line x1="1670" y1="1650" x2="1690" y2="1662.5" stroke-width="2.9" />
<line x1="1667.5" y1="1683.7" x2="1713.7" y2="1646" stroke-width="4.1" />
<line x1="1695" y1="1666" x2="1712" y2="1676" stroke-width="2.0" stroke-dasharray="14 5 2 5"/>
<line x1="1717.5" y1="1555.5" x2="1717.5" y2="1677.5" stroke-width="5.2" />
<path d="M1701,1640 L1716,1644 L1701,1648" stroke-width="2.9" fill="#0d0d0d"/>
<circle cx="1739" cy="1642" r="4" stroke-width="2.9" fill="#0d0d0d"/>
<line x1="1725" y1="1634" x2="1732" y2="1634" stroke-width="2.9" />
<line x1="1722" y1="1648" x2="1730" y2="1648" stroke-width="2.9" />
<line x1="1750" y1="1648" x2="1762" y2="1648" stroke-width="2.9" />
<line x1="1750" y1="1635" x2="1760" y2="1635" stroke-width="2.9" />
<path d="M1765,1640 L1768,1646 L1775,1645" stroke-width="2.9" />
<line x1="1728" y1="1675" x2="1762" y2="1652" stroke-width="2.9" />
<line x1="1725" y1="1583" x2="1757" y2="1597" stroke-width="2.9" />
<circle cx="1767" cy="1603.5" r="1.3" stroke-width="1.3" fill="#0d0d0d"/>
<line x1="1781" y1="1578.7" x2="1781" y2="1670" stroke-width="4.1" />
<polyline points="1797.5,1575 1808,1620 1816,1665" stroke-width="3.1999999999999997" />
<line x1="1782.5" y1="1610" x2="1805" y2="1621" stroke-width="2.9" />
<line x1="1782.5" y1="1637.5" x2="1805" y2="1621" stroke-width="2.9" />
<path d="M1768,1578 L1770,1570 L1777,1570 L1779,1565 L1788,1563 Q1795,1564 1792,1570 L1783,1574 L1795,1581" stroke-width="2.9" />
<line x1="1764" y1="1579" x2="1782" y2="1579" stroke-width="4.1" />
<line x1="1816.5" y1="1622" x2="1816.5" y2="1666.5" stroke-width="2.9" />
<line x1="1868" y1="1585" x2="1822" y2="1613" stroke-width="2.9" stroke-dasharray="14 5 2 5"/>
<line x1="1828" y1="1634" x2="1869" y2="1657" stroke-width="2.9" stroke-dasharray="14 5 2 5"/>
<path d="M1792.5,1680 L1817.5,1666" stroke-width="2.9" />
<line x1="1871" y1="1553" x2="1871" y2="1658" stroke-width="4.3999999999999995" />
<line x1="1974.3" y1="1550" x2="1974.3" y2="1644" stroke-width="4.3999999999999995" />
<line x1="1871" y1="1609.8" x2="1974" y2="1609.8" stroke-width="2.9" />
<line x1="1873" y1="1556" x2="1934" y2="1607.8" stroke-width="2.9" />
<line x1="1970" y1="1553" x2="1919.7" y2="1607.8" stroke-width="2.9" stroke-dasharray="22 6 3 6"/>
<line x1="1879" y1="1612" x2="1972" y2="1612" stroke-width="2.9" />
<line x1="1879" y1="1635" x2="1972" y2="1635" stroke-width="5.2" />
<path d="M1879,1612 Q1889,1623.5 1879,1635" stroke-width="2.9" />
<line x1="1876" y1="1612" x2="1876" y2="1635" stroke-width="4.1" />
<line x1="1872" y1="1656" x2="1889" y2="1637" stroke-width="2.9" />
<path d="M1867.5,1552.5 L1871,1553 L1911.5,1549 L1974,1549 L2047,1547" stroke-width="4.1" />
<path d="M2047,1547 Q2050,1580 2042,1615 Q2039,1634 2023,1638" stroke-width="3.1999999999999997" />
<path d="M2043,1548 Q2044,1585 2041,1618" stroke-width="2.9" />
<polyline points="2047,1547 2077.6,1580.5 2051,1612" stroke-width="3.1999999999999997" />
<polygon points="2041,1620 2049.5,1628 2036,1631" stroke-width="2.9" />
<line x1="2053" y1="1612" x2="2087.7" y2="1612" stroke-width="4.1" />
<line x1="2056" y1="1619" x2="2081.6" y2="1619" stroke-width="2.9" />
<line x1="2068.5" y1="1629.6" x2="2081.6" y2="1629.6" stroke-width="4.1" />
<path d="M1777.5,1514.5 Q1774,1497 1786,1494 L1806,1494 L1792,1503.5 L1805,1514.5" stroke-width="3.3" />
<line x1="1777" y1="1516.5" x2="1806" y2="1516.5" stroke-width="4.1" />
<path d="M1924.5,1547 Q1921,1529 1932,1526 L1954,1526 L1942,1535 L1952,1548" stroke-width="3.1999999999999997" />
<line x1="433" y1="1623" x2="437" y2="1723" stroke-width="2.9" />
<line x1="545" y1="1606.7" x2="568" y2="1721" stroke-width="2.9" />
<line x1="662" y1="1656.7" x2="670.4" y2="1719" stroke-width="2.9" />
<line x1="828.7" y1="1667" x2="822.5" y2="1721" stroke-width="2.9" />
<line x1="979" y1="1675" x2="979" y2="1723" stroke-width="2.9" />
<line x1="1120" y1="1690" x2="1125" y2="1723" stroke-width="2.9" />
<line x1="1173" y1="1690" x2="1178" y2="1723" stroke-width="2.9" />
<line x1="1444" y1="1698.6" x2="1444" y2="1724" stroke-width="2.9" />
<line x1="1613.7" y1="1667.5" x2="1625" y2="1726.4" stroke-width="2.9" />
<line x1="1633.7" y1="1625" x2="1665" y2="1733" stroke-width="2.9" />
<line x1="1742.5" y1="1662.5" x2="1772" y2="1735" stroke-width="2.9" />
<line x1="1230" y1="1281.7" x2="1200.5" y2="1320" stroke-width="4.1" />
<line x1="1308" y1="1290" x2="1238.7" y2="1520" stroke-width="2.9" />
<line x1="1371.7" y1="1365" x2="1311" y2="1567.5" stroke-width="2.9" />
<line x1="1864" y1="1411" x2="1914.6" y2="1577.4" stroke-width="2.9" />
<line x1="2001.5" y1="1411" x2="1793" y2="1503.5" stroke-width="3.1999999999999997" />
<line x1="2014" y1="1418" x2="1946" y2="1535" stroke-width="3.1999999999999997" />
<line x1="2031.5" y1="1418" x2="2041" y2="1547" stroke-width="3.1999999999999997" />
<text x="437" y="1749" class="lbb" text-anchor="middle" stroke="none">1</text>
<text x="570.4" y="1749" class="lbb" text-anchor="middle" stroke="none">2</text>
<text x="671.7" y="1749" class="lbb" text-anchor="middle" stroke="none">10</text>
<text x="817.5" y="1749" class="lbb" text-anchor="middle" stroke="none">9</text>
<text x="980" y="1749" class="lbb" text-anchor="middle" stroke="none">11</text>
<text x="1127" y="1749" class="lbb" text-anchor="middle" stroke="none">3</text>
<text x="1179" y="1749" class="lbb" text-anchor="middle" stroke="none">4</text>
<text x="1446.4" y="1752.5" class="lbb" text-anchor="middle" stroke="none">11</text>
<text x="1627.7" y="1754.5" class="lbb" text-anchor="middle" stroke="none">2</text>
<text x="1679" y="1752.5" class="lbb" text-anchor="middle" stroke="none">7</text>
<text x="1778.6" y="1757" class="lbb" text-anchor="middle" stroke="none">1</text>
<text x="1241.7" y="1275.5" class="lb" text-anchor="middle" >8</text>
<text x="1316.7" y="1279" class="lb" text-anchor="middle" >6</text>
<text x="1383" y="1354" class="lb" text-anchor="middle" >7</text>
<text x="1860" y="1401" class="lbb" text-anchor="middle" stroke="none">5</text>
<text x="2020.8" y="1401" class="lbb" text-anchor="middle" stroke="none">12</text>
<text x="1964" y="1324.8" class="ttl" text-anchor="middle" stroke="none">пр. М-IV</text>
</svg>
</body></html>
